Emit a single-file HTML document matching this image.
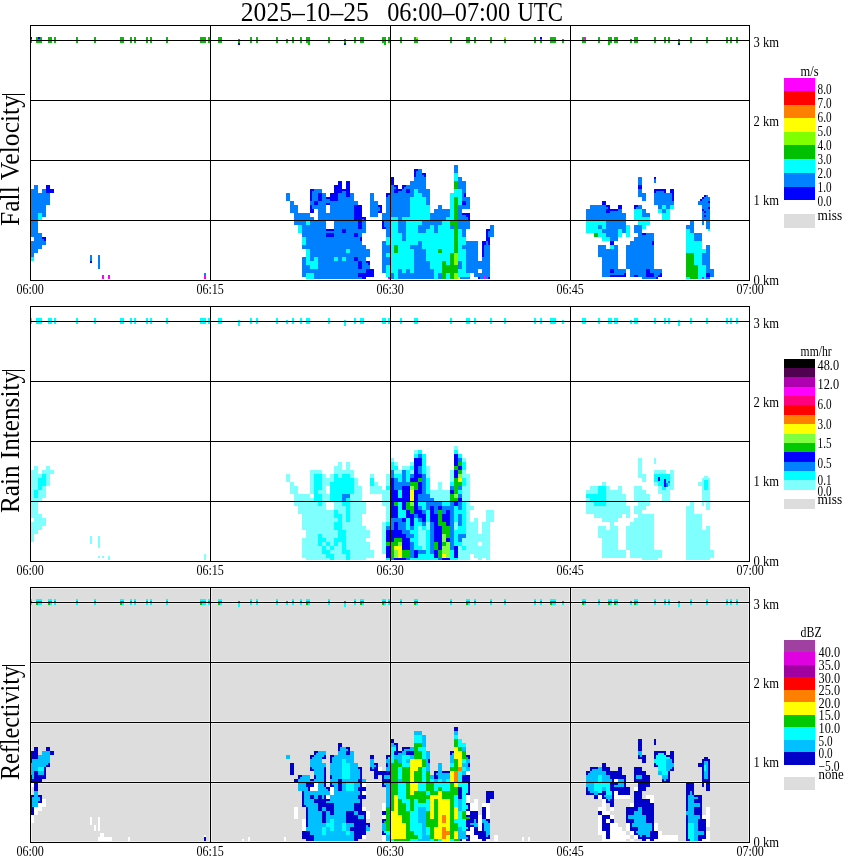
<!DOCTYPE html><html><head><meta charset="utf-8"><style>html,body{margin:0;padding:0;background:#fff;overflow:hidden}svg{display:block}text{font-family:"Liberation Serif",serif}.txt{opacity:0.999}</style></head><body>
<svg width="850" height="868" viewBox="0 0 850 868">
<rect x="31" y="588" width="718" height="254" fill="#dddddd"/>
<g shape-rendering="crispEdges" fill="#eeeeee">
<rect x="31" y="588" width="1" height="254"/>
<rect x="209" y="588" width="1" height="254"/>
<rect x="211" y="588" width="1" height="254"/>
<rect x="389" y="588" width="1" height="254"/>
<rect x="391" y="588" width="1" height="254"/>
<rect x="569" y="588" width="1" height="254"/>
<rect x="571" y="588" width="1" height="254"/>
<rect x="748" y="588" width="1" height="254"/>
<rect x="31" y="588" width="718" height="1"/>
<rect x="31" y="601" width="718" height="1"/>
<rect x="31" y="603" width="718" height="1"/>
<rect x="31" y="661" width="718" height="1"/>
<rect x="31" y="663" width="718" height="1"/>
<rect x="31" y="721" width="718" height="1"/>
<rect x="31" y="723" width="718" height="1"/>
<rect x="31" y="781" width="718" height="1"/>
<rect x="31" y="783" width="718" height="1"/>
<rect x="31" y="841" width="718" height="1"/>
</g>
<g shape-rendering="crispEdges">
<rect x="454" y="165" width="4" height="8" fill="#0080ff"/>
<rect x="414" y="169" width="4" height="2" fill="#0000ff"/>
<rect x="418" y="169" width="4" height="2" fill="#0080ff"/>
<rect x="414" y="171" width="2" height="6" fill="#0000ff"/>
<rect x="416" y="171" width="6" height="4" fill="#0080ff"/>
<rect x="422" y="173" width="4" height="2" fill="#0000ff"/>
<rect x="454" y="173" width="4" height="8" fill="#00ffff"/>
<rect x="416" y="175" width="8" height="2" fill="#0080ff"/>
<rect x="424" y="175" width="2" height="2" fill="#0000ff"/>
<rect x="390" y="177" width="4" height="8" fill="#0000ff"/>
<rect x="414" y="177" width="12" height="4" fill="#0080ff"/>
<rect x="458" y="177" width="4" height="4" fill="#0080ff"/>
<rect x="638" y="177" width="4" height="8" fill="#0080ff"/>
<rect x="338" y="181" width="4" height="4" fill="#0000ff"/>
<rect x="346" y="181" width="4" height="8" fill="#0000ff"/>
<rect x="410" y="181" width="16" height="4" fill="#0080ff"/>
<rect x="454" y="181" width="4" height="8" fill="#00c000"/>
<rect x="458" y="181" width="8" height="8" fill="#0080ff"/>
<rect x="34" y="185" width="4" height="4" fill="#0080ff"/>
<rect x="46" y="185" width="4" height="4" fill="#0000ff"/>
<rect x="334" y="185" width="8" height="4" fill="#0000ff"/>
<rect x="390" y="185" width="4" height="2" fill="#0080ff"/>
<rect x="394" y="185" width="4" height="2" fill="#0000ff"/>
<rect x="402" y="185" width="4" height="2" fill="#0000ff"/>
<rect x="406" y="185" width="20" height="2" fill="#0080ff"/>
<rect x="638" y="185" width="4" height="4" fill="#0000ff"/>
<rect x="390" y="187" width="6" height="2" fill="#0080ff"/>
<rect x="396" y="187" width="2" height="2" fill="#0000ff"/>
<rect x="402" y="187" width="2" height="2" fill="#0000ff"/>
<rect x="404" y="187" width="22" height="2" fill="#0080ff"/>
<rect x="30" y="189" width="8" height="4" fill="#0080ff"/>
<rect x="42" y="189" width="4" height="4" fill="#0080ff"/>
<rect x="46" y="189" width="8" height="4" fill="#0000ff"/>
<rect x="310" y="189" width="4" height="2" fill="#0000ff"/>
<rect x="314" y="189" width="8" height="2" fill="#0080ff"/>
<rect x="334" y="189" width="16" height="2" fill="#0000ff"/>
<rect x="390" y="189" width="4" height="4" fill="#0080ff"/>
<rect x="394" y="189" width="8" height="2" fill="#0000ff"/>
<rect x="402" y="189" width="4" height="2" fill="#0080ff"/>
<rect x="406" y="189" width="4" height="4" fill="#0000ff"/>
<rect x="410" y="189" width="4" height="4" fill="#0080ff"/>
<rect x="414" y="189" width="4" height="4" fill="#00ffff"/>
<rect x="418" y="189" width="12" height="4" fill="#0080ff"/>
<rect x="454" y="189" width="8" height="4" fill="#00ffff"/>
<rect x="462" y="189" width="4" height="4" fill="#0080ff"/>
<rect x="638" y="189" width="4" height="4" fill="#0080ff"/>
<rect x="654" y="189" width="12" height="2" fill="#0000ff"/>
<rect x="670" y="189" width="4" height="4" fill="#0000ff"/>
<rect x="310" y="191" width="2" height="10" fill="#0000ff"/>
<rect x="312" y="191" width="10" height="2" fill="#0080ff"/>
<rect x="334" y="191" width="8" height="2" fill="#0000ff"/>
<rect x="342" y="191" width="4" height="2" fill="#0080ff"/>
<rect x="346" y="191" width="4" height="6" fill="#0000ff"/>
<rect x="394" y="191" width="4" height="2" fill="#0000ff"/>
<rect x="398" y="191" width="8" height="2" fill="#0080ff"/>
<rect x="654" y="191" width="2" height="2" fill="#0000ff"/>
<rect x="656" y="191" width="8" height="2" fill="#0080ff"/>
<rect x="664" y="191" width="2" height="2" fill="#0000ff"/>
<rect x="30" y="193" width="20" height="12" fill="#0080ff"/>
<rect x="286" y="193" width="4" height="8" fill="#0080ff"/>
<rect x="312" y="193" width="6" height="8" fill="#0080ff"/>
<rect x="318" y="193" width="4" height="8" fill="#0000ff"/>
<rect x="322" y="193" width="4" height="6" fill="#0080ff"/>
<rect x="330" y="193" width="8" height="4" fill="#0000ff"/>
<rect x="338" y="193" width="8" height="4" fill="#0080ff"/>
<rect x="350" y="193" width="4" height="4" fill="#0080ff"/>
<rect x="370" y="193" width="4" height="8" fill="#0080ff"/>
<rect x="386" y="193" width="4" height="2" fill="#0000ff"/>
<rect x="390" y="193" width="24" height="2" fill="#0080ff"/>
<rect x="414" y="193" width="8" height="4" fill="#00ffff"/>
<rect x="422" y="193" width="8" height="4" fill="#0080ff"/>
<rect x="450" y="193" width="12" height="4" fill="#00ffff"/>
<rect x="462" y="193" width="2" height="4" fill="#0080ff"/>
<rect x="464" y="193" width="2" height="4" fill="#0000ff"/>
<rect x="638" y="193" width="8" height="4" fill="#0080ff"/>
<rect x="654" y="193" width="18" height="8" fill="#0080ff"/>
<rect x="672" y="193" width="2" height="8" fill="#0000ff"/>
<rect x="386" y="195" width="2" height="2" fill="#0000ff"/>
<rect x="388" y="195" width="26" height="2" fill="#0080ff"/>
<rect x="326" y="197" width="12" height="2" fill="#0000ff"/>
<rect x="338" y="197" width="16" height="4" fill="#0080ff"/>
<rect x="386" y="197" width="24" height="16" fill="#0080ff"/>
<rect x="410" y="197" width="16" height="8" fill="#00ffff"/>
<rect x="426" y="197" width="4" height="8" fill="#0080ff"/>
<rect x="450" y="197" width="4" height="20" fill="#00ffff"/>
<rect x="454" y="197" width="4" height="24" fill="#00c000"/>
<rect x="458" y="197" width="4" height="8" fill="#00ffff"/>
<rect x="462" y="197" width="8" height="4" fill="#0080ff"/>
<rect x="642" y="197" width="4" height="4" fill="#0080ff"/>
<rect x="322" y="199" width="8" height="2" fill="#0080ff"/>
<rect x="330" y="199" width="8" height="2" fill="#0000ff"/>
<rect x="290" y="201" width="4" height="4" fill="#0080ff"/>
<rect x="310" y="201" width="4" height="4" fill="#0080ff"/>
<rect x="314" y="201" width="4" height="4" fill="#0000ff"/>
<rect x="318" y="201" width="40" height="2" fill="#0080ff"/>
<rect x="370" y="201" width="8" height="6" fill="#0080ff"/>
<rect x="462" y="201" width="4" height="4" fill="#0000ff"/>
<rect x="466" y="201" width="4" height="4" fill="#0080ff"/>
<rect x="602" y="201" width="4" height="4" fill="#0000ff"/>
<rect x="654" y="201" width="20" height="4" fill="#0080ff"/>
<rect x="698" y="201" width="4" height="4" fill="#0080ff"/>
<rect x="318" y="203" width="8" height="2" fill="#0080ff"/>
<rect x="326" y="203" width="4" height="2" fill="#0000ff"/>
<rect x="330" y="203" width="28" height="2" fill="#0080ff"/>
<rect x="30" y="205" width="16" height="8" fill="#0080ff"/>
<rect x="290" y="205" width="8" height="8" fill="#0080ff"/>
<rect x="310" y="205" width="2" height="4" fill="#0000ff"/>
<rect x="312" y="205" width="14" height="4" fill="#0080ff"/>
<rect x="330" y="205" width="24" height="8" fill="#0080ff"/>
<rect x="354" y="205" width="8" height="12" fill="#0000ff"/>
<rect x="378" y="205" width="4" height="2" fill="#0000ff"/>
<rect x="410" y="205" width="20" height="12" fill="#00ffff"/>
<rect x="438" y="205" width="4" height="4" fill="#0080ff"/>
<rect x="458" y="205" width="12" height="4" fill="#0080ff"/>
<rect x="590" y="205" width="16" height="2" fill="#0080ff"/>
<rect x="606" y="205" width="4" height="2" fill="#0000ff"/>
<rect x="618" y="205" width="4" height="4" fill="#0000ff"/>
<rect x="634" y="205" width="4" height="2" fill="#0000ff"/>
<rect x="638" y="205" width="4" height="2" fill="#0080ff"/>
<rect x="658" y="205" width="4" height="4" fill="#0080ff"/>
<rect x="662" y="205" width="4" height="4" fill="#00ffff"/>
<rect x="666" y="205" width="4" height="4" fill="#0080ff"/>
<rect x="670" y="205" width="4" height="4" fill="#00ffff"/>
<rect x="370" y="207" width="10" height="4" fill="#0080ff"/>
<rect x="380" y="207" width="2" height="4" fill="#0000ff"/>
<rect x="590" y="207" width="18" height="2" fill="#0080ff"/>
<rect x="608" y="207" width="2" height="2" fill="#0000ff"/>
<rect x="634" y="207" width="2" height="2" fill="#0000ff"/>
<rect x="636" y="207" width="6" height="2" fill="#0080ff"/>
<rect x="310" y="209" width="4" height="4" fill="#0000ff"/>
<rect x="318" y="209" width="8" height="4" fill="#0080ff"/>
<rect x="434" y="209" width="16" height="4" fill="#0080ff"/>
<rect x="458" y="209" width="4" height="6" fill="#0080ff"/>
<rect x="586" y="209" width="20" height="4" fill="#0080ff"/>
<rect x="606" y="209" width="12" height="2" fill="#0000ff"/>
<rect x="618" y="209" width="4" height="2" fill="#0080ff"/>
<rect x="634" y="209" width="8" height="8" fill="#00ffff"/>
<rect x="642" y="209" width="4" height="4" fill="#0080ff"/>
<rect x="658" y="209" width="4" height="4" fill="#00ffff"/>
<rect x="662" y="209" width="4" height="4" fill="#0080ff"/>
<rect x="666" y="209" width="4" height="4" fill="#00ffff"/>
<rect x="370" y="211" width="8" height="6" fill="#0080ff"/>
<rect x="378" y="211" width="4" height="2" fill="#0000ff"/>
<rect x="606" y="211" width="4" height="2" fill="#0000ff"/>
<rect x="610" y="211" width="12" height="2" fill="#0080ff"/>
<rect x="30" y="213" width="8" height="20" fill="#0080ff"/>
<rect x="38" y="213" width="4" height="8" fill="#00ffff"/>
<rect x="42" y="213" width="4" height="4" fill="#0080ff"/>
<rect x="294" y="213" width="16" height="4" fill="#0080ff"/>
<rect x="318" y="213" width="36" height="8" fill="#0080ff"/>
<rect x="382" y="213" width="28" height="4" fill="#0080ff"/>
<rect x="430" y="213" width="20" height="4" fill="#0080ff"/>
<rect x="462" y="213" width="8" height="2" fill="#0000ff"/>
<rect x="586" y="213" width="40" height="8" fill="#0080ff"/>
<rect x="642" y="213" width="8" height="4" fill="#0080ff"/>
<rect x="662" y="213" width="8" height="8" fill="#00ffff"/>
<rect x="458" y="215" width="8" height="2" fill="#0080ff"/>
<rect x="466" y="215" width="4" height="2" fill="#0000ff"/>
<rect x="294" y="217" width="20" height="4" fill="#0080ff"/>
<rect x="354" y="217" width="12" height="2" fill="#0000ff"/>
<rect x="382" y="217" width="8" height="4" fill="#0080ff"/>
<rect x="390" y="217" width="8" height="16" fill="#00ffff"/>
<rect x="398" y="217" width="4" height="4" fill="#0080ff"/>
<rect x="402" y="217" width="28" height="4" fill="#00ffff"/>
<rect x="430" y="217" width="16" height="4" fill="#0080ff"/>
<rect x="446" y="217" width="8" height="4" fill="#00ffff"/>
<rect x="458" y="217" width="10" height="4" fill="#0080ff"/>
<rect x="468" y="217" width="2" height="4" fill="#0000ff"/>
<rect x="634" y="217" width="16" height="4" fill="#00ffff"/>
<rect x="354" y="219" width="8" height="2" fill="#0000ff"/>
<rect x="362" y="219" width="2" height="2" fill="#0080ff"/>
<rect x="364" y="219" width="2" height="2" fill="#0000ff"/>
<rect x="294" y="221" width="12" height="4" fill="#0080ff"/>
<rect x="306" y="221" width="4" height="4" fill="#00ffff"/>
<rect x="310" y="221" width="16" height="4" fill="#0080ff"/>
<rect x="334" y="221" width="24" height="8" fill="#0080ff"/>
<rect x="358" y="221" width="4" height="8" fill="#0000ff"/>
<rect x="362" y="221" width="4" height="8" fill="#0080ff"/>
<rect x="382" y="221" width="2" height="6" fill="#0000ff"/>
<rect x="384" y="221" width="6" height="6" fill="#0080ff"/>
<rect x="398" y="221" width="8" height="12" fill="#0080ff"/>
<rect x="406" y="221" width="16" height="4" fill="#00ffff"/>
<rect x="422" y="221" width="20" height="4" fill="#0080ff"/>
<rect x="442" y="221" width="8" height="4" fill="#00ffff"/>
<rect x="450" y="221" width="8" height="4" fill="#00c000"/>
<rect x="458" y="221" width="12" height="8" fill="#0080ff"/>
<rect x="586" y="221" width="20" height="4" fill="#00ffff"/>
<rect x="606" y="221" width="20" height="8" fill="#0080ff"/>
<rect x="638" y="221" width="12" height="4" fill="#00ffff"/>
<rect x="690" y="221" width="4" height="4" fill="#0080ff"/>
<rect x="298" y="225" width="4" height="8" fill="#00ffff"/>
<rect x="302" y="225" width="24" height="6" fill="#0080ff"/>
<rect x="406" y="225" width="12" height="8" fill="#00ffff"/>
<rect x="418" y="225" width="12" height="4" fill="#0080ff"/>
<rect x="430" y="225" width="4" height="4" fill="#00ffff"/>
<rect x="434" y="225" width="4" height="8" fill="#0080ff"/>
<rect x="438" y="225" width="12" height="4" fill="#00ffff"/>
<rect x="450" y="225" width="4" height="4" fill="#0080ff"/>
<rect x="454" y="225" width="4" height="28" fill="#00c000"/>
<rect x="490" y="225" width="4" height="6" fill="#0080ff"/>
<rect x="586" y="225" width="12" height="4" fill="#00ffff"/>
<rect x="598" y="225" width="4" height="4" fill="#0080ff"/>
<rect x="602" y="225" width="4" height="4" fill="#00ffff"/>
<rect x="626" y="225" width="4" height="12" fill="#00ffff"/>
<rect x="634" y="225" width="8" height="8" fill="#0080ff"/>
<rect x="642" y="225" width="4" height="4" fill="#00ffff"/>
<rect x="686" y="225" width="8" height="4" fill="#0080ff"/>
<rect x="382" y="227" width="4" height="2" fill="#0000ff"/>
<rect x="386" y="227" width="4" height="10" fill="#0080ff"/>
<rect x="326" y="229" width="8" height="2" fill="#0000ff"/>
<rect x="334" y="229" width="8" height="2" fill="#0080ff"/>
<rect x="342" y="229" width="4" height="4" fill="#0000ff"/>
<rect x="346" y="229" width="20" height="4" fill="#0080ff"/>
<rect x="418" y="229" width="8" height="4" fill="#0080ff"/>
<rect x="426" y="229" width="8" height="4" fill="#00ffff"/>
<rect x="438" y="229" width="16" height="4" fill="#00ffff"/>
<rect x="458" y="229" width="4" height="8" fill="#00ffff"/>
<rect x="462" y="229" width="4" height="8" fill="#0080ff"/>
<rect x="486" y="229" width="4" height="2" fill="#0000ff"/>
<rect x="586" y="229" width="16" height="4" fill="#00ffff"/>
<rect x="602" y="229" width="16" height="4" fill="#0080ff"/>
<rect x="618" y="229" width="4" height="8" fill="#00ffff"/>
<rect x="622" y="229" width="4" height="4" fill="#0080ff"/>
<rect x="686" y="229" width="4" height="4" fill="#00ffff"/>
<rect x="690" y="229" width="4" height="4" fill="#0080ff"/>
<rect x="302" y="231" width="40" height="2" fill="#0080ff"/>
<rect x="486" y="231" width="2" height="6" fill="#0000ff"/>
<rect x="488" y="231" width="6" height="6" fill="#0080ff"/>
<rect x="30" y="233" width="12" height="4" fill="#0080ff"/>
<rect x="302" y="233" width="24" height="4" fill="#0080ff"/>
<rect x="326" y="233" width="8" height="4" fill="#0000ff"/>
<rect x="334" y="233" width="20" height="4" fill="#0080ff"/>
<rect x="354" y="233" width="4" height="4" fill="#0000ff"/>
<rect x="358" y="233" width="4" height="4" fill="#0080ff"/>
<rect x="390" y="233" width="12" height="4" fill="#00ffff"/>
<rect x="402" y="233" width="4" height="8" fill="#0080ff"/>
<rect x="406" y="233" width="48" height="8" fill="#00ffff"/>
<rect x="594" y="233" width="4" height="4" fill="#00c000"/>
<rect x="598" y="233" width="8" height="4" fill="#00ffff"/>
<rect x="606" y="233" width="12" height="4" fill="#0080ff"/>
<rect x="638" y="233" width="4" height="2" fill="#0080ff"/>
<rect x="642" y="233" width="4" height="2" fill="#0000ff"/>
<rect x="646" y="233" width="8" height="2" fill="#0080ff"/>
<rect x="686" y="233" width="8" height="8" fill="#00ffff"/>
<rect x="694" y="233" width="8" height="8" fill="#0080ff"/>
<rect x="638" y="235" width="16" height="2" fill="#0080ff"/>
<rect x="34" y="237" width="8" height="2" fill="#0080ff"/>
<rect x="42" y="237" width="4" height="2" fill="#0000ff"/>
<rect x="302" y="237" width="4" height="8" fill="#00ffff"/>
<rect x="306" y="237" width="54" height="4" fill="#0080ff"/>
<rect x="360" y="237" width="2" height="4" fill="#0000ff"/>
<rect x="386" y="237" width="16" height="4" fill="#00ffff"/>
<rect x="458" y="237" width="8" height="8" fill="#00ffff"/>
<rect x="486" y="237" width="4" height="4" fill="#0000ff"/>
<rect x="602" y="237" width="8" height="4" fill="#00ffff"/>
<rect x="610" y="237" width="8" height="4" fill="#0080ff"/>
<rect x="634" y="237" width="20" height="4" fill="#0080ff"/>
<rect x="34" y="239" width="10" height="2" fill="#0080ff"/>
<rect x="44" y="239" width="2" height="2" fill="#0000ff"/>
<rect x="30" y="241" width="16" height="4" fill="#0080ff"/>
<rect x="306" y="241" width="56" height="4" fill="#0080ff"/>
<rect x="382" y="241" width="4" height="4" fill="#0080ff"/>
<rect x="386" y="241" width="32" height="4" fill="#00ffff"/>
<rect x="418" y="241" width="4" height="4" fill="#0080ff"/>
<rect x="422" y="241" width="32" height="8" fill="#00ffff"/>
<rect x="466" y="241" width="12" height="4" fill="#0080ff"/>
<rect x="482" y="241" width="4" height="4" fill="#0000ff"/>
<rect x="486" y="241" width="2" height="4" fill="#0080ff"/>
<rect x="488" y="241" width="2" height="4" fill="#0000ff"/>
<rect x="610" y="241" width="4" height="4" fill="#0000ff"/>
<rect x="630" y="241" width="22" height="4" fill="#0080ff"/>
<rect x="652" y="241" width="2" height="4" fill="#0000ff"/>
<rect x="686" y="241" width="16" height="8" fill="#00ffff"/>
<rect x="30" y="245" width="12" height="4" fill="#0080ff"/>
<rect x="302" y="245" width="64" height="4" fill="#0080ff"/>
<rect x="382" y="245" width="8" height="8" fill="#0080ff"/>
<rect x="390" y="245" width="4" height="8" fill="#00ffff"/>
<rect x="394" y="245" width="4" height="8" fill="#00c000"/>
<rect x="398" y="245" width="12" height="4" fill="#00ffff"/>
<rect x="410" y="245" width="12" height="4" fill="#0080ff"/>
<rect x="458" y="245" width="4" height="4" fill="#00ffff"/>
<rect x="462" y="245" width="16" height="4" fill="#0080ff"/>
<rect x="482" y="245" width="2" height="12" fill="#0000ff"/>
<rect x="484" y="245" width="6" height="12" fill="#0080ff"/>
<rect x="598" y="245" width="8" height="4" fill="#0080ff"/>
<rect x="610" y="245" width="4" height="4" fill="#00ffff"/>
<rect x="614" y="245" width="4" height="4" fill="#0080ff"/>
<rect x="626" y="245" width="28" height="24" fill="#0080ff"/>
<rect x="706" y="245" width="4" height="8" fill="#0080ff"/>
<rect x="30" y="249" width="8" height="4" fill="#0080ff"/>
<rect x="306" y="249" width="4" height="12" fill="#00ffff"/>
<rect x="310" y="249" width="36" height="4" fill="#0080ff"/>
<rect x="346" y="249" width="4" height="4" fill="#00ffff"/>
<rect x="350" y="249" width="20" height="4" fill="#0080ff"/>
<rect x="398" y="249" width="16" height="4" fill="#00ffff"/>
<rect x="414" y="249" width="12" height="12" fill="#0080ff"/>
<rect x="426" y="249" width="12" height="4" fill="#00ffff"/>
<rect x="438" y="249" width="4" height="4" fill="#00c000"/>
<rect x="442" y="249" width="12" height="4" fill="#00ffff"/>
<rect x="458" y="249" width="8" height="12" fill="#00ffff"/>
<rect x="466" y="249" width="12" height="12" fill="#0080ff"/>
<rect x="598" y="249" width="20" height="8" fill="#0080ff"/>
<rect x="686" y="249" width="20" height="4" fill="#00ffff"/>
<rect x="30" y="253" width="4" height="4" fill="#0080ff"/>
<rect x="310" y="253" width="60" height="4" fill="#0080ff"/>
<rect x="382" y="253" width="4" height="4" fill="#0080ff"/>
<rect x="386" y="253" width="28" height="4" fill="#00ffff"/>
<rect x="426" y="253" width="24" height="8" fill="#00ffff"/>
<rect x="450" y="253" width="4" height="12" fill="#00c000"/>
<rect x="454" y="253" width="4" height="12" fill="#80ff00"/>
<rect x="686" y="253" width="8" height="12" fill="#00c000"/>
<rect x="694" y="253" width="8" height="12" fill="#00ffff"/>
<rect x="702" y="253" width="8" height="12" fill="#0080ff"/>
<rect x="30" y="257" width="4" height="4" fill="#00ffff"/>
<rect x="302" y="257" width="4" height="8" fill="#0080ff"/>
<rect x="310" y="257" width="4" height="4" fill="#0080ff"/>
<rect x="314" y="257" width="4" height="4" fill="#00ffff"/>
<rect x="318" y="257" width="16" height="4" fill="#0080ff"/>
<rect x="334" y="257" width="4" height="4" fill="#00ffff"/>
<rect x="338" y="257" width="4" height="4" fill="#0080ff"/>
<rect x="342" y="257" width="4" height="4" fill="#00ffff"/>
<rect x="346" y="257" width="8" height="4" fill="#0080ff"/>
<rect x="354" y="257" width="4" height="4" fill="#0000ff"/>
<rect x="358" y="257" width="8" height="4" fill="#0080ff"/>
<rect x="382" y="257" width="8" height="8" fill="#0080ff"/>
<rect x="390" y="257" width="24" height="8" fill="#00ffff"/>
<rect x="482" y="257" width="8" height="4" fill="#0080ff"/>
<rect x="602" y="257" width="16" height="12" fill="#0080ff"/>
<rect x="306" y="261" width="12" height="4" fill="#00ffff"/>
<rect x="318" y="261" width="40" height="8" fill="#0080ff"/>
<rect x="358" y="261" width="4" height="8" fill="#0000ff"/>
<rect x="362" y="261" width="4" height="2" fill="#0080ff"/>
<rect x="366" y="261" width="4" height="2" fill="#0000ff"/>
<rect x="414" y="261" width="16" height="8" fill="#0080ff"/>
<rect x="430" y="261" width="12" height="8" fill="#00ffff"/>
<rect x="442" y="261" width="4" height="4" fill="#00c000"/>
<rect x="446" y="261" width="4" height="4" fill="#00ffff"/>
<rect x="458" y="261" width="4" height="8" fill="#0080ff"/>
<rect x="462" y="261" width="4" height="8" fill="#00ffff"/>
<rect x="466" y="261" width="24" height="8" fill="#0080ff"/>
<rect x="362" y="263" width="6" height="2" fill="#0080ff"/>
<rect x="368" y="263" width="2" height="2" fill="#0000ff"/>
<rect x="302" y="265" width="8" height="4" fill="#0080ff"/>
<rect x="310" y="265" width="8" height="4" fill="#00ffff"/>
<rect x="362" y="265" width="8" height="4" fill="#0080ff"/>
<rect x="382" y="265" width="4" height="8" fill="#0080ff"/>
<rect x="386" y="265" width="28" height="4" fill="#00ffff"/>
<rect x="442" y="265" width="16" height="8" fill="#00c000"/>
<rect x="686" y="265" width="12" height="12" fill="#00c000"/>
<rect x="698" y="265" width="8" height="16" fill="#00ffff"/>
<rect x="706" y="265" width="4" height="4" fill="#0080ff"/>
<rect x="302" y="269" width="64" height="4" fill="#0080ff"/>
<rect x="366" y="269" width="8" height="4" fill="#0000ff"/>
<rect x="386" y="269" width="12" height="4" fill="#00ffff"/>
<rect x="398" y="269" width="4" height="4" fill="#0080ff"/>
<rect x="402" y="269" width="4" height="4" fill="#00ffff"/>
<rect x="406" y="269" width="4" height="4" fill="#0080ff"/>
<rect x="410" y="269" width="4" height="4" fill="#00ffff"/>
<rect x="414" y="269" width="20" height="4" fill="#0080ff"/>
<rect x="434" y="269" width="8" height="4" fill="#00ffff"/>
<rect x="458" y="269" width="8" height="4" fill="#00ffff"/>
<rect x="466" y="269" width="12" height="4" fill="#0080ff"/>
<rect x="482" y="269" width="8" height="4" fill="#0080ff"/>
<rect x="602" y="269" width="8" height="4" fill="#0080ff"/>
<rect x="610" y="269" width="4" height="4" fill="#0000ff"/>
<rect x="614" y="269" width="12" height="4" fill="#0080ff"/>
<rect x="630" y="269" width="16" height="6" fill="#0080ff"/>
<rect x="646" y="269" width="4" height="4" fill="#0000ff"/>
<rect x="650" y="269" width="12" height="4" fill="#0080ff"/>
<rect x="706" y="269" width="8" height="4" fill="#0080ff"/>
<rect x="302" y="273" width="4" height="4" fill="#0080ff"/>
<rect x="306" y="273" width="8" height="8" fill="#00ffff"/>
<rect x="314" y="273" width="44" height="4" fill="#0080ff"/>
<rect x="358" y="273" width="16" height="4" fill="#0000ff"/>
<rect x="386" y="273" width="4" height="4" fill="#00ffff"/>
<rect x="390" y="273" width="4" height="8" fill="#0080ff"/>
<rect x="394" y="273" width="4" height="8" fill="#00ffff"/>
<rect x="398" y="273" width="36" height="8" fill="#0080ff"/>
<rect x="434" y="273" width="4" height="8" fill="#00ffff"/>
<rect x="438" y="273" width="4" height="8" fill="#0080ff"/>
<rect x="442" y="273" width="4" height="8" fill="#00c000"/>
<rect x="446" y="273" width="4" height="8" fill="#00ffff"/>
<rect x="450" y="273" width="4" height="8" fill="#00c000"/>
<rect x="454" y="273" width="4" height="8" fill="#80ff00"/>
<rect x="458" y="273" width="12" height="4" fill="#00ffff"/>
<rect x="474" y="273" width="16" height="4" fill="#0080ff"/>
<rect x="602" y="273" width="22" height="2" fill="#0080ff"/>
<rect x="624" y="273" width="2" height="2" fill="#0000ff"/>
<rect x="646" y="273" width="8" height="4" fill="#0000ff"/>
<rect x="654" y="273" width="6" height="2" fill="#0080ff"/>
<rect x="660" y="273" width="2" height="2" fill="#0000ff"/>
<rect x="706" y="273" width="4" height="4" fill="#0000ff"/>
<rect x="710" y="273" width="4" height="4" fill="#0080ff"/>
<rect x="602" y="275" width="8" height="2" fill="#0080ff"/>
<rect x="610" y="275" width="16" height="2" fill="#0000ff"/>
<rect x="630" y="275" width="4" height="2" fill="#0080ff"/>
<rect x="634" y="275" width="4" height="2" fill="#0000ff"/>
<rect x="638" y="275" width="8" height="2" fill="#0080ff"/>
<rect x="654" y="275" width="4" height="2" fill="#0080ff"/>
<rect x="658" y="275" width="4" height="2" fill="#0000ff"/>
<rect x="314" y="277" width="48" height="2" fill="#0080ff"/>
<rect x="362" y="277" width="4" height="2" fill="#0000ff"/>
<rect x="458" y="277" width="12" height="4" fill="#0080ff"/>
<rect x="478" y="277" width="2" height="2" fill="#0000ff"/>
<rect x="480" y="277" width="8" height="2" fill="#0080ff"/>
<rect x="488" y="277" width="2" height="2" fill="#0000ff"/>
<rect x="642" y="277" width="14" height="2" fill="#0080ff"/>
<rect x="656" y="277" width="2" height="2" fill="#0000ff"/>
<rect x="686" y="277" width="4" height="4" fill="#00ffff"/>
<rect x="690" y="277" width="8" height="4" fill="#00c000"/>
<rect x="706" y="277" width="4" height="4" fill="#0080ff"/>
<rect x="314" y="279" width="44" height="2" fill="#0080ff"/>
<rect x="358" y="279" width="8" height="2" fill="#0000ff"/>
<rect x="478" y="279" width="4" height="2" fill="#0000ff"/>
<rect x="482" y="279" width="4" height="2" fill="#0080ff"/>
<rect x="486" y="279" width="4" height="2" fill="#0000ff"/>
<rect x="642" y="279" width="4" height="2" fill="#0080ff"/>
<rect x="646" y="279" width="4" height="2" fill="#0000ff"/>
<rect x="650" y="279" width="4" height="2" fill="#0080ff"/>
<rect x="654" y="279" width="4" height="2" fill="#0000ff"/>
<rect x="454" y="446" width="4" height="4" fill="#80ffff"/>
<rect x="414" y="450" width="4" height="4" fill="#80ffff"/>
<rect x="418" y="450" width="4" height="4" fill="#00ffff"/>
<rect x="454" y="450" width="4" height="4" fill="#00ffff"/>
<rect x="414" y="454" width="4" height="4" fill="#00ffff"/>
<rect x="418" y="454" width="4" height="4" fill="#0080ff"/>
<rect x="422" y="454" width="4" height="20" fill="#00ffff"/>
<rect x="454" y="454" width="4" height="12" fill="#0000ff"/>
<rect x="458" y="454" width="4" height="4" fill="#00ffff"/>
<rect x="390" y="458" width="4" height="4" fill="#80ffff"/>
<rect x="414" y="458" width="8" height="8" fill="#0000ff"/>
<rect x="458" y="458" width="4" height="4" fill="#0080ff"/>
<rect x="462" y="458" width="4" height="4" fill="#80ffff"/>
<rect x="638" y="458" width="4" height="16" fill="#80ffff"/>
<rect x="338" y="462" width="4" height="4" fill="#80ffff"/>
<rect x="346" y="462" width="4" height="8" fill="#80ffff"/>
<rect x="390" y="462" width="4" height="4" fill="#00ffff"/>
<rect x="394" y="462" width="4" height="4" fill="#80ffff"/>
<rect x="410" y="462" width="4" height="4" fill="#80ffff"/>
<rect x="458" y="462" width="4" height="4" fill="#00c800"/>
<rect x="462" y="462" width="4" height="8" fill="#00ffff"/>
<rect x="34" y="466" width="4" height="4" fill="#80ffff"/>
<rect x="46" y="466" width="4" height="4" fill="#80ffff"/>
<rect x="334" y="466" width="8" height="4" fill="#80ffff"/>
<rect x="390" y="466" width="8" height="4" fill="#00ffff"/>
<rect x="402" y="466" width="8" height="4" fill="#80ffff"/>
<rect x="410" y="466" width="4" height="4" fill="#00ffff"/>
<rect x="414" y="466" width="4" height="8" fill="#0000ff"/>
<rect x="418" y="466" width="4" height="8" fill="#0080ff"/>
<rect x="426" y="466" width="4" height="12" fill="#80ffff"/>
<rect x="454" y="466" width="4" height="4" fill="#00c800"/>
<rect x="458" y="466" width="4" height="4" fill="#0000ff"/>
<rect x="30" y="470" width="8" height="4" fill="#80ffff"/>
<rect x="42" y="470" width="12" height="4" fill="#80ffff"/>
<rect x="310" y="470" width="12" height="4" fill="#80ffff"/>
<rect x="334" y="470" width="20" height="4" fill="#80ffff"/>
<rect x="390" y="470" width="4" height="8" fill="#0080ff"/>
<rect x="394" y="470" width="8" height="4" fill="#80ffff"/>
<rect x="402" y="470" width="4" height="12" fill="#0080ff"/>
<rect x="406" y="470" width="4" height="12" fill="#00ffff"/>
<rect x="410" y="470" width="4" height="4" fill="#80ffff"/>
<rect x="450" y="470" width="4" height="12" fill="#80ffff"/>
<rect x="454" y="470" width="4" height="8" fill="#0000ff"/>
<rect x="458" y="470" width="4" height="4" fill="#00c800"/>
<rect x="462" y="470" width="4" height="4" fill="#80ffff"/>
<rect x="654" y="470" width="12" height="4" fill="#80ffff"/>
<rect x="670" y="470" width="4" height="16" fill="#80ffff"/>
<rect x="30" y="474" width="12" height="4" fill="#80ffff"/>
<rect x="42" y="474" width="4" height="4" fill="#00ffff"/>
<rect x="46" y="474" width="4" height="12" fill="#80ffff"/>
<rect x="286" y="474" width="4" height="8" fill="#80ffff"/>
<rect x="310" y="474" width="4" height="20" fill="#80ffff"/>
<rect x="314" y="474" width="8" height="16" fill="#00ffff"/>
<rect x="322" y="474" width="4" height="4" fill="#80ffff"/>
<rect x="330" y="474" width="4" height="4" fill="#80ffff"/>
<rect x="334" y="474" width="4" height="4" fill="#00ffff"/>
<rect x="338" y="474" width="4" height="4" fill="#80ffff"/>
<rect x="342" y="474" width="8" height="4" fill="#00ffff"/>
<rect x="350" y="474" width="4" height="4" fill="#80ffff"/>
<rect x="370" y="474" width="4" height="4" fill="#80ffff"/>
<rect x="386" y="474" width="4" height="12" fill="#80ffff"/>
<rect x="394" y="474" width="8" height="4" fill="#00ffff"/>
<rect x="410" y="474" width="4" height="4" fill="#0080ff"/>
<rect x="414" y="474" width="8" height="4" fill="#0000ff"/>
<rect x="422" y="474" width="4" height="20" fill="#0080ff"/>
<rect x="458" y="474" width="4" height="4" fill="#80ff40"/>
<rect x="462" y="474" width="8" height="4" fill="#80ffff"/>
<rect x="638" y="474" width="8" height="4" fill="#80ffff"/>
<rect x="654" y="474" width="16" height="8" fill="#00ffff"/>
<rect x="30" y="478" width="8" height="12" fill="#80ffff"/>
<rect x="38" y="478" width="8" height="8" fill="#00ffff"/>
<rect x="322" y="478" width="12" height="4" fill="#80ffff"/>
<rect x="334" y="478" width="20" height="4" fill="#00ffff"/>
<rect x="354" y="478" width="4" height="8" fill="#80ffff"/>
<rect x="370" y="478" width="4" height="8" fill="#00ffff"/>
<rect x="390" y="478" width="4" height="12" fill="#0000ff"/>
<rect x="394" y="478" width="4" height="4" fill="#0080ff"/>
<rect x="398" y="478" width="4" height="4" fill="#00ffff"/>
<rect x="410" y="478" width="8" height="4" fill="#0000ff"/>
<rect x="418" y="478" width="4" height="4" fill="#00c800"/>
<rect x="426" y="478" width="4" height="16" fill="#00ffff"/>
<rect x="454" y="478" width="4" height="4" fill="#00c800"/>
<rect x="458" y="478" width="4" height="4" fill="#ffff00"/>
<rect x="462" y="478" width="4" height="8" fill="#00ffff"/>
<rect x="466" y="478" width="4" height="8" fill="#80ffff"/>
<rect x="642" y="478" width="4" height="4" fill="#80ffff"/>
<rect x="290" y="482" width="4" height="4" fill="#80ffff"/>
<rect x="322" y="482" width="8" height="4" fill="#80ffff"/>
<rect x="330" y="482" width="24" height="12" fill="#00ffff"/>
<rect x="374" y="482" width="4" height="4" fill="#80ffff"/>
<rect x="394" y="482" width="16" height="4" fill="#0080ff"/>
<rect x="410" y="482" width="8" height="4" fill="#00c800"/>
<rect x="418" y="482" width="4" height="8" fill="#0000ff"/>
<rect x="438" y="482" width="4" height="8" fill="#80ffff"/>
<rect x="450" y="482" width="4" height="4" fill="#00ffff"/>
<rect x="454" y="482" width="8" height="4" fill="#00c800"/>
<rect x="602" y="482" width="4" height="4" fill="#80ffff"/>
<rect x="654" y="482" width="4" height="4" fill="#80ffff"/>
<rect x="658" y="482" width="12" height="4" fill="#00ffff"/>
<rect x="698" y="482" width="4" height="4" fill="#80ffff"/>
<rect x="38" y="486" width="4" height="4" fill="#00ffff"/>
<rect x="42" y="486" width="4" height="4" fill="#80ffff"/>
<rect x="290" y="486" width="8" height="8" fill="#80ffff"/>
<rect x="322" y="486" width="4" height="4" fill="#80ffff"/>
<rect x="354" y="486" width="8" height="8" fill="#80ffff"/>
<rect x="370" y="486" width="12" height="4" fill="#80ffff"/>
<rect x="386" y="486" width="4" height="4" fill="#00ffff"/>
<rect x="394" y="486" width="8" height="4" fill="#0080ff"/>
<rect x="402" y="486" width="8" height="12" fill="#0000ff"/>
<rect x="410" y="486" width="4" height="4" fill="#80ff40"/>
<rect x="414" y="486" width="4" height="4" fill="#00c800"/>
<rect x="450" y="486" width="4" height="4" fill="#0080ff"/>
<rect x="454" y="486" width="4" height="8" fill="#00c800"/>
<rect x="458" y="486" width="4" height="4" fill="#0080ff"/>
<rect x="462" y="486" width="8" height="16" fill="#80ffff"/>
<rect x="590" y="486" width="8" height="4" fill="#80ffff"/>
<rect x="598" y="486" width="8" height="8" fill="#00ffff"/>
<rect x="606" y="486" width="4" height="4" fill="#80ffff"/>
<rect x="618" y="486" width="4" height="4" fill="#80ffff"/>
<rect x="634" y="486" width="8" height="4" fill="#80ffff"/>
<rect x="658" y="486" width="4" height="4" fill="#80ffff"/>
<rect x="662" y="486" width="4" height="4" fill="#00ffff"/>
<rect x="666" y="486" width="8" height="4" fill="#80ffff"/>
<rect x="30" y="490" width="4" height="8" fill="#80ffff"/>
<rect x="34" y="490" width="4" height="8" fill="#00ffff"/>
<rect x="38" y="490" width="8" height="8" fill="#80ffff"/>
<rect x="314" y="490" width="4" height="4" fill="#00ffff"/>
<rect x="318" y="490" width="8" height="4" fill="#80ffff"/>
<rect x="370" y="490" width="20" height="4" fill="#80ffff"/>
<rect x="390" y="490" width="8" height="8" fill="#0000ff"/>
<rect x="398" y="490" width="4" height="8" fill="#00ffff"/>
<rect x="410" y="490" width="4" height="12" fill="#ffff00"/>
<rect x="414" y="490" width="8" height="4" fill="#0000ff"/>
<rect x="430" y="490" width="20" height="8" fill="#80ffff"/>
<rect x="450" y="490" width="4" height="4" fill="#0000ff"/>
<rect x="458" y="490" width="4" height="4" fill="#00ffff"/>
<rect x="586" y="490" width="12" height="4" fill="#80ffff"/>
<rect x="606" y="490" width="16" height="4" fill="#80ffff"/>
<rect x="634" y="490" width="12" height="4" fill="#80ffff"/>
<rect x="658" y="490" width="12" height="4" fill="#80ffff"/>
<rect x="294" y="494" width="16" height="4" fill="#80ffff"/>
<rect x="314" y="494" width="8" height="8" fill="#00ffff"/>
<rect x="322" y="494" width="8" height="8" fill="#80ffff"/>
<rect x="330" y="494" width="12" height="8" fill="#00ffff"/>
<rect x="342" y="494" width="8" height="4" fill="#0080ff"/>
<rect x="350" y="494" width="12" height="8" fill="#80ffff"/>
<rect x="382" y="494" width="8" height="12" fill="#80ffff"/>
<rect x="414" y="494" width="4" height="16" fill="#0000ff"/>
<rect x="418" y="494" width="12" height="4" fill="#0080ff"/>
<rect x="450" y="494" width="4" height="4" fill="#00c800"/>
<rect x="454" y="494" width="4" height="4" fill="#80ff40"/>
<rect x="458" y="494" width="4" height="4" fill="#0080ff"/>
<rect x="586" y="494" width="20" height="4" fill="#00ffff"/>
<rect x="606" y="494" width="20" height="12" fill="#80ffff"/>
<rect x="634" y="494" width="16" height="8" fill="#80ffff"/>
<rect x="662" y="494" width="8" height="8" fill="#80ffff"/>
<rect x="30" y="498" width="12" height="4" fill="#80ffff"/>
<rect x="294" y="498" width="20" height="4" fill="#80ffff"/>
<rect x="342" y="498" width="4" height="4" fill="#0080ff"/>
<rect x="346" y="498" width="4" height="4" fill="#00ffff"/>
<rect x="390" y="498" width="20" height="4" fill="#0000ff"/>
<rect x="418" y="498" width="16" height="4" fill="#0080ff"/>
<rect x="434" y="498" width="16" height="4" fill="#80ffff"/>
<rect x="450" y="498" width="8" height="4" fill="#00c800"/>
<rect x="458" y="498" width="4" height="4" fill="#0000ff"/>
<rect x="586" y="498" width="4" height="4" fill="#80ffff"/>
<rect x="590" y="498" width="16" height="4" fill="#00ffff"/>
<rect x="30" y="502" width="8" height="12" fill="#80ffff"/>
<rect x="294" y="502" width="24" height="4" fill="#80ffff"/>
<rect x="318" y="502" width="4" height="4" fill="#00ffff"/>
<rect x="322" y="502" width="4" height="4" fill="#80ffff"/>
<rect x="334" y="502" width="8" height="4" fill="#80ffff"/>
<rect x="342" y="502" width="8" height="4" fill="#00ffff"/>
<rect x="350" y="502" width="16" height="12" fill="#80ffff"/>
<rect x="390" y="502" width="4" height="4" fill="#0000ff"/>
<rect x="394" y="502" width="4" height="4" fill="#00c800"/>
<rect x="398" y="502" width="4" height="8" fill="#00ffff"/>
<rect x="402" y="502" width="4" height="8" fill="#0000ff"/>
<rect x="406" y="502" width="4" height="4" fill="#00c800"/>
<rect x="410" y="502" width="4" height="4" fill="#80ff40"/>
<rect x="418" y="502" width="8" height="4" fill="#00ffff"/>
<rect x="426" y="502" width="16" height="4" fill="#0080ff"/>
<rect x="442" y="502" width="8" height="4" fill="#00ffff"/>
<rect x="450" y="502" width="4" height="4" fill="#0080ff"/>
<rect x="454" y="502" width="4" height="4" fill="#0000ff"/>
<rect x="458" y="502" width="4" height="8" fill="#0080ff"/>
<rect x="462" y="502" width="4" height="8" fill="#00ffff"/>
<rect x="466" y="502" width="4" height="4" fill="#80ffff"/>
<rect x="586" y="502" width="8" height="4" fill="#80ffff"/>
<rect x="594" y="502" width="12" height="4" fill="#00ffff"/>
<rect x="638" y="502" width="12" height="4" fill="#80ffff"/>
<rect x="690" y="502" width="4" height="4" fill="#80ffff"/>
<rect x="298" y="506" width="28" height="4" fill="#80ffff"/>
<rect x="334" y="506" width="12" height="4" fill="#80ffff"/>
<rect x="346" y="506" width="4" height="16" fill="#00ffff"/>
<rect x="386" y="506" width="4" height="16" fill="#80ffff"/>
<rect x="390" y="506" width="8" height="12" fill="#0000ff"/>
<rect x="406" y="506" width="8" height="4" fill="#00c800"/>
<rect x="418" y="506" width="4" height="4" fill="#0080ff"/>
<rect x="422" y="506" width="4" height="4" fill="#00ffff"/>
<rect x="426" y="506" width="4" height="4" fill="#0080ff"/>
<rect x="430" y="506" width="4" height="8" fill="#0000ff"/>
<rect x="434" y="506" width="4" height="8" fill="#0080ff"/>
<rect x="438" y="506" width="4" height="4" fill="#0000ff"/>
<rect x="442" y="506" width="12" height="4" fill="#0080ff"/>
<rect x="454" y="506" width="4" height="4" fill="#00ffff"/>
<rect x="466" y="506" width="8" height="4" fill="#80ffff"/>
<rect x="586" y="506" width="44" height="8" fill="#80ffff"/>
<rect x="634" y="506" width="12" height="4" fill="#80ffff"/>
<rect x="686" y="506" width="8" height="8" fill="#80ffff"/>
<rect x="298" y="510" width="36" height="4" fill="#80ffff"/>
<rect x="334" y="510" width="4" height="4" fill="#00ffff"/>
<rect x="338" y="510" width="8" height="4" fill="#80ffff"/>
<rect x="398" y="510" width="8" height="8" fill="#00ffff"/>
<rect x="406" y="510" width="4" height="4" fill="#0000ff"/>
<rect x="410" y="510" width="4" height="4" fill="#00c800"/>
<rect x="414" y="510" width="8" height="4" fill="#0000ff"/>
<rect x="422" y="510" width="4" height="4" fill="#0080ff"/>
<rect x="426" y="510" width="4" height="12" fill="#00ffff"/>
<rect x="438" y="510" width="4" height="12" fill="#00c800"/>
<rect x="442" y="510" width="4" height="4" fill="#0080ff"/>
<rect x="446" y="510" width="4" height="4" fill="#0000ff"/>
<rect x="450" y="510" width="4" height="40" fill="#0080ff"/>
<rect x="454" y="510" width="12" height="4" fill="#00ffff"/>
<rect x="466" y="510" width="4" height="12" fill="#80ffff"/>
<rect x="486" y="510" width="8" height="12" fill="#80ffff"/>
<rect x="634" y="510" width="8" height="4" fill="#80ffff"/>
<rect x="30" y="514" width="12" height="4" fill="#80ffff"/>
<rect x="302" y="514" width="32" height="4" fill="#80ffff"/>
<rect x="334" y="514" width="8" height="4" fill="#00ffff"/>
<rect x="342" y="514" width="4" height="8" fill="#80ffff"/>
<rect x="350" y="514" width="12" height="8" fill="#80ffff"/>
<rect x="406" y="514" width="8" height="4" fill="#0000ff"/>
<rect x="414" y="514" width="4" height="4" fill="#0080ff"/>
<rect x="418" y="514" width="8" height="4" fill="#0000ff"/>
<rect x="430" y="514" width="8" height="8" fill="#0000ff"/>
<rect x="442" y="514" width="8" height="8" fill="#0000ff"/>
<rect x="454" y="514" width="4" height="8" fill="#00ffff"/>
<rect x="458" y="514" width="4" height="12" fill="#0080ff"/>
<rect x="462" y="514" width="4" height="12" fill="#00ffff"/>
<rect x="594" y="514" width="28" height="4" fill="#80ffff"/>
<rect x="626" y="514" width="4" height="4" fill="#80ffff"/>
<rect x="638" y="514" width="16" height="4" fill="#80ffff"/>
<rect x="686" y="514" width="16" height="16" fill="#80ffff"/>
<rect x="34" y="518" width="12" height="4" fill="#80ffff"/>
<rect x="302" y="518" width="36" height="4" fill="#80ffff"/>
<rect x="338" y="518" width="4" height="4" fill="#00ffff"/>
<rect x="390" y="518" width="12" height="4" fill="#0080ff"/>
<rect x="402" y="518" width="4" height="4" fill="#0000ff"/>
<rect x="406" y="518" width="4" height="12" fill="#00ffff"/>
<rect x="410" y="518" width="4" height="8" fill="#0000ff"/>
<rect x="414" y="518" width="4" height="4" fill="#00ffff"/>
<rect x="418" y="518" width="4" height="4" fill="#0080ff"/>
<rect x="422" y="518" width="4" height="4" fill="#0000ff"/>
<rect x="474" y="518" width="4" height="4" fill="#80ffff"/>
<rect x="602" y="518" width="16" height="4" fill="#80ffff"/>
<rect x="634" y="518" width="20" height="4" fill="#80ffff"/>
<rect x="30" y="522" width="16" height="4" fill="#80ffff"/>
<rect x="302" y="522" width="32" height="8" fill="#80ffff"/>
<rect x="334" y="522" width="8" height="8" fill="#00ffff"/>
<rect x="342" y="522" width="20" height="4" fill="#80ffff"/>
<rect x="382" y="522" width="4" height="32" fill="#80ffff"/>
<rect x="386" y="522" width="4" height="4" fill="#00ffff"/>
<rect x="390" y="522" width="4" height="4" fill="#0080ff"/>
<rect x="394" y="522" width="4" height="8" fill="#0000ff"/>
<rect x="398" y="522" width="8" height="8" fill="#0080ff"/>
<rect x="414" y="522" width="8" height="4" fill="#00ffff"/>
<rect x="422" y="522" width="4" height="4" fill="#0080ff"/>
<rect x="426" y="522" width="4" height="8" fill="#80ffff"/>
<rect x="430" y="522" width="4" height="32" fill="#0080ff"/>
<rect x="434" y="522" width="4" height="4" fill="#0000ff"/>
<rect x="438" y="522" width="8" height="4" fill="#00c800"/>
<rect x="446" y="522" width="4" height="4" fill="#0000ff"/>
<rect x="454" y="522" width="4" height="8" fill="#80ffff"/>
<rect x="466" y="522" width="12" height="12" fill="#80ffff"/>
<rect x="482" y="522" width="8" height="12" fill="#80ffff"/>
<rect x="610" y="522" width="4" height="4" fill="#80ffff"/>
<rect x="630" y="522" width="24" height="4" fill="#80ffff"/>
<rect x="30" y="526" width="12" height="4" fill="#80ffff"/>
<rect x="342" y="526" width="24" height="4" fill="#80ffff"/>
<rect x="386" y="526" width="8" height="4" fill="#0080ff"/>
<rect x="410" y="526" width="4" height="4" fill="#0080ff"/>
<rect x="414" y="526" width="4" height="4" fill="#00ffff"/>
<rect x="418" y="526" width="4" height="4" fill="#80ffff"/>
<rect x="422" y="526" width="4" height="4" fill="#00ffff"/>
<rect x="434" y="526" width="8" height="16" fill="#0000ff"/>
<rect x="442" y="526" width="8" height="8" fill="#00c800"/>
<rect x="458" y="526" width="8" height="4" fill="#00ffff"/>
<rect x="598" y="526" width="8" height="4" fill="#80ffff"/>
<rect x="610" y="526" width="8" height="4" fill="#80ffff"/>
<rect x="626" y="526" width="28" height="24" fill="#80ffff"/>
<rect x="706" y="526" width="4" height="4" fill="#80ffff"/>
<rect x="30" y="530" width="8" height="4" fill="#80ffff"/>
<rect x="306" y="530" width="32" height="4" fill="#80ffff"/>
<rect x="338" y="530" width="8" height="8" fill="#00ffff"/>
<rect x="346" y="530" width="24" height="8" fill="#80ffff"/>
<rect x="386" y="530" width="16" height="4" fill="#0000ff"/>
<rect x="402" y="530" width="8" height="4" fill="#0080ff"/>
<rect x="410" y="530" width="8" height="4" fill="#00ffff"/>
<rect x="418" y="530" width="8" height="16" fill="#80ffff"/>
<rect x="426" y="530" width="4" height="24" fill="#00ffff"/>
<rect x="454" y="530" width="12" height="4" fill="#00ffff"/>
<rect x="598" y="530" width="20" height="8" fill="#80ffff"/>
<rect x="686" y="530" width="24" height="20" fill="#80ffff"/>
<rect x="30" y="534" width="4" height="8" fill="#80ffff"/>
<rect x="306" y="534" width="12" height="4" fill="#80ffff"/>
<rect x="318" y="534" width="4" height="4" fill="#00ffff"/>
<rect x="322" y="534" width="16" height="4" fill="#80ffff"/>
<rect x="386" y="534" width="20" height="4" fill="#0000ff"/>
<rect x="406" y="534" width="8" height="4" fill="#0080ff"/>
<rect x="414" y="534" width="4" height="4" fill="#00ffff"/>
<rect x="442" y="534" width="4" height="8" fill="#80ff40"/>
<rect x="446" y="534" width="4" height="4" fill="#00c800"/>
<rect x="454" y="534" width="4" height="8" fill="#00ffff"/>
<rect x="458" y="534" width="8" height="4" fill="#0080ff"/>
<rect x="466" y="534" width="24" height="4" fill="#80ffff"/>
<rect x="302" y="538" width="16" height="8" fill="#80ffff"/>
<rect x="318" y="538" width="8" height="4" fill="#00ffff"/>
<rect x="326" y="538" width="8" height="4" fill="#80ffff"/>
<rect x="334" y="538" width="12" height="4" fill="#00ffff"/>
<rect x="346" y="538" width="20" height="4" fill="#80ffff"/>
<rect x="386" y="538" width="8" height="4" fill="#0000ff"/>
<rect x="394" y="538" width="8" height="4" fill="#00c800"/>
<rect x="402" y="538" width="8" height="12" fill="#0000ff"/>
<rect x="410" y="538" width="8" height="4" fill="#00ffff"/>
<rect x="446" y="538" width="4" height="4" fill="#0000ff"/>
<rect x="458" y="538" width="4" height="4" fill="#0080ff"/>
<rect x="462" y="538" width="28" height="4" fill="#80ffff"/>
<rect x="602" y="538" width="16" height="12" fill="#80ffff"/>
<rect x="318" y="542" width="4" height="4" fill="#00ffff"/>
<rect x="322" y="542" width="4" height="4" fill="#80ffff"/>
<rect x="326" y="542" width="4" height="4" fill="#00ffff"/>
<rect x="330" y="542" width="4" height="4" fill="#80ffff"/>
<rect x="334" y="542" width="4" height="4" fill="#00ffff"/>
<rect x="338" y="542" width="4" height="4" fill="#80ffff"/>
<rect x="342" y="542" width="4" height="8" fill="#00ffff"/>
<rect x="346" y="542" width="24" height="8" fill="#80ffff"/>
<rect x="386" y="542" width="12" height="4" fill="#00c800"/>
<rect x="398" y="542" width="4" height="4" fill="#80ff40"/>
<rect x="410" y="542" width="4" height="16" fill="#0080ff"/>
<rect x="414" y="542" width="4" height="4" fill="#00ffff"/>
<rect x="434" y="542" width="4" height="8" fill="#00c800"/>
<rect x="438" y="542" width="4" height="8" fill="#0000ff"/>
<rect x="442" y="542" width="4" height="4" fill="#00c800"/>
<rect x="446" y="542" width="4" height="4" fill="#80ff40"/>
<rect x="454" y="542" width="8" height="4" fill="#00ffff"/>
<rect x="462" y="542" width="16" height="4" fill="#80ffff"/>
<rect x="482" y="542" width="8" height="4" fill="#80ffff"/>
<rect x="302" y="546" width="20" height="8" fill="#80ffff"/>
<rect x="322" y="546" width="4" height="4" fill="#00ffff"/>
<rect x="326" y="546" width="4" height="4" fill="#80ffff"/>
<rect x="330" y="546" width="4" height="4" fill="#00ffff"/>
<rect x="334" y="546" width="8" height="4" fill="#80ffff"/>
<rect x="386" y="546" width="4" height="12" fill="#0000ff"/>
<rect x="390" y="546" width="4" height="12" fill="#00c800"/>
<rect x="394" y="546" width="8" height="4" fill="#ffff00"/>
<rect x="414" y="546" width="8" height="4" fill="#00ffff"/>
<rect x="422" y="546" width="4" height="4" fill="#80ffff"/>
<rect x="442" y="546" width="8" height="8" fill="#80ff40"/>
<rect x="454" y="546" width="4" height="12" fill="#0000ff"/>
<rect x="458" y="546" width="4" height="4" fill="#80ffff"/>
<rect x="462" y="546" width="4" height="4" fill="#00ffff"/>
<rect x="466" y="546" width="24" height="4" fill="#80ffff"/>
<rect x="322" y="550" width="8" height="4" fill="#00ffff"/>
<rect x="330" y="550" width="12" height="4" fill="#80ffff"/>
<rect x="342" y="550" width="8" height="4" fill="#00ffff"/>
<rect x="350" y="550" width="24" height="8" fill="#80ffff"/>
<rect x="394" y="550" width="4" height="8" fill="#80ff40"/>
<rect x="398" y="550" width="4" height="8" fill="#ffff00"/>
<rect x="402" y="550" width="8" height="8" fill="#00c800"/>
<rect x="414" y="550" width="4" height="8" fill="#0000ff"/>
<rect x="418" y="550" width="8" height="4" fill="#0080ff"/>
<rect x="434" y="550" width="4" height="8" fill="#0000ff"/>
<rect x="438" y="550" width="4" height="8" fill="#00c800"/>
<rect x="450" y="550" width="4" height="8" fill="#00ffff"/>
<rect x="458" y="550" width="32" height="4" fill="#80ffff"/>
<rect x="602" y="550" width="24" height="8" fill="#80ffff"/>
<rect x="630" y="550" width="32" height="8" fill="#80ffff"/>
<rect x="686" y="550" width="28" height="8" fill="#80ffff"/>
<rect x="302" y="554" width="24" height="4" fill="#80ffff"/>
<rect x="326" y="554" width="8" height="4" fill="#00ffff"/>
<rect x="334" y="554" width="12" height="8" fill="#80ffff"/>
<rect x="346" y="554" width="4" height="8" fill="#00ffff"/>
<rect x="418" y="554" width="16" height="4" fill="#00ffff"/>
<rect x="442" y="554" width="4" height="4" fill="#ffff00"/>
<rect x="446" y="554" width="4" height="4" fill="#80ff40"/>
<rect x="458" y="554" width="12" height="8" fill="#80ffff"/>
<rect x="474" y="554" width="16" height="4" fill="#80ffff"/>
<rect x="306" y="558" width="24" height="4" fill="#80ffff"/>
<rect x="330" y="558" width="4" height="4" fill="#00ffff"/>
<rect x="350" y="558" width="16" height="4" fill="#80ffff"/>
<rect x="386" y="558" width="4" height="4" fill="#00ffff"/>
<rect x="390" y="558" width="4" height="4" fill="#0080ff"/>
<rect x="394" y="558" width="12" height="4" fill="#0000ff"/>
<rect x="406" y="558" width="4" height="4" fill="#0080ff"/>
<rect x="410" y="558" width="28" height="4" fill="#00ffff"/>
<rect x="438" y="558" width="4" height="4" fill="#0080ff"/>
<rect x="442" y="558" width="8" height="4" fill="#0000ff"/>
<rect x="450" y="558" width="8" height="4" fill="#00ffff"/>
<rect x="478" y="558" width="4" height="4" fill="#80ffff"/>
<rect x="486" y="558" width="4" height="4" fill="#80ffff"/>
<rect x="642" y="558" width="16" height="4" fill="#80ffff"/>
<rect x="686" y="558" width="24" height="4" fill="#80ffff"/>
<rect x="454" y="727" width="4" height="4" fill="#0000c8"/>
<rect x="414" y="731" width="8" height="4" fill="#00c0ff"/>
<rect x="454" y="731" width="4" height="4" fill="#00c0ff"/>
<rect x="414" y="735" width="8" height="8" fill="#00ffff"/>
<rect x="422" y="735" width="4" height="12" fill="#00c0ff"/>
<rect x="454" y="735" width="4" height="4" fill="#00ffff"/>
<rect x="390" y="739" width="4" height="4" fill="#0000c8"/>
<rect x="454" y="739" width="4" height="8" fill="#00c800"/>
<rect x="458" y="739" width="4" height="4" fill="#00ffff"/>
<rect x="638" y="739" width="4" height="12" fill="#0000c8"/>
<rect x="338" y="743" width="4" height="4" fill="#0000c8"/>
<rect x="390" y="743" width="4" height="2" fill="#00c0ff"/>
<rect x="394" y="743" width="4" height="2" fill="#0000c8"/>
<rect x="414" y="743" width="8" height="4" fill="#00c800"/>
<rect x="458" y="743" width="8" height="4" fill="#00ffff"/>
<rect x="390" y="745" width="6" height="2" fill="#00c0ff"/>
<rect x="396" y="745" width="2" height="6" fill="#0000c8"/>
<rect x="34" y="747" width="4" height="4" fill="#0000c8"/>
<rect x="46" y="747" width="4" height="4" fill="#0000c8"/>
<rect x="338" y="747" width="2" height="4" fill="#0000c8"/>
<rect x="340" y="747" width="6" height="2" fill="#00c0ff"/>
<rect x="346" y="747" width="4" height="2" fill="#0000c8"/>
<rect x="390" y="747" width="6" height="4" fill="#00ffff"/>
<rect x="402" y="747" width="8" height="2" fill="#0000c8"/>
<rect x="410" y="747" width="4" height="2" fill="#00c0ff"/>
<rect x="414" y="747" width="4" height="4" fill="#00c800"/>
<rect x="418" y="747" width="8" height="4" fill="#00ffff"/>
<rect x="454" y="747" width="4" height="4" fill="#ffff00"/>
<rect x="458" y="747" width="4" height="4" fill="#00c800"/>
<rect x="462" y="747" width="4" height="4" fill="#00c0ff"/>
<rect x="340" y="749" width="8" height="2" fill="#00c0ff"/>
<rect x="348" y="749" width="2" height="2" fill="#0000c8"/>
<rect x="402" y="749" width="2" height="2" fill="#0000c8"/>
<rect x="404" y="749" width="10" height="2" fill="#00c0ff"/>
<rect x="30" y="751" width="8" height="8" fill="#0000c8"/>
<rect x="42" y="751" width="8" height="4" fill="#00c0ff"/>
<rect x="50" y="751" width="4" height="4" fill="#0000c8"/>
<rect x="314" y="751" width="4" height="2" fill="#0000c8"/>
<rect x="318" y="751" width="8" height="2" fill="#00c0ff"/>
<rect x="338" y="751" width="8" height="4" fill="#00c0ff"/>
<rect x="346" y="751" width="4" height="4" fill="#0000c8"/>
<rect x="350" y="751" width="4" height="4" fill="#00c0ff"/>
<rect x="390" y="751" width="4" height="6" fill="#00ffff"/>
<rect x="394" y="751" width="8" height="2" fill="#0000c8"/>
<rect x="402" y="751" width="4" height="2" fill="#00c0ff"/>
<rect x="406" y="751" width="8" height="4" fill="#0000c8"/>
<rect x="414" y="751" width="8" height="8" fill="#00c800"/>
<rect x="422" y="751" width="4" height="8" fill="#00ffff"/>
<rect x="426" y="751" width="4" height="8" fill="#00c0ff"/>
<rect x="450" y="751" width="4" height="2" fill="#0000c8"/>
<rect x="454" y="751" width="8" height="8" fill="#ffff00"/>
<rect x="462" y="751" width="4" height="6" fill="#00c800"/>
<rect x="638" y="751" width="4" height="4" fill="#00c0ff"/>
<rect x="654" y="751" width="12" height="2" fill="#0000c8"/>
<rect x="670" y="751" width="4" height="4" fill="#0000c8"/>
<rect x="314" y="753" width="2" height="2" fill="#0000c8"/>
<rect x="316" y="753" width="10" height="2" fill="#00c0ff"/>
<rect x="394" y="753" width="4" height="2" fill="#0000c8"/>
<rect x="398" y="753" width="8" height="2" fill="#00c0ff"/>
<rect x="450" y="753" width="2" height="2" fill="#0000c8"/>
<rect x="452" y="753" width="2" height="2" fill="#00c0ff"/>
<rect x="654" y="753" width="4" height="2" fill="#0000c8"/>
<rect x="658" y="753" width="6" height="2" fill="#00ffff"/>
<rect x="664" y="753" width="2" height="2" fill="#0000c8"/>
<rect x="38" y="755" width="12" height="4" fill="#00c0ff"/>
<rect x="286" y="755" width="4" height="4" fill="#00c0ff"/>
<rect x="310" y="755" width="4" height="2" fill="#0000c8"/>
<rect x="314" y="755" width="10" height="2" fill="#00c0ff"/>
<rect x="324" y="755" width="2" height="2" fill="#0000c8"/>
<rect x="330" y="755" width="4" height="2" fill="#0000c8"/>
<rect x="334" y="755" width="20" height="2" fill="#00c0ff"/>
<rect x="370" y="755" width="4" height="4" fill="#0000c8"/>
<rect x="386" y="755" width="4" height="2" fill="#0000c8"/>
<rect x="394" y="755" width="8" height="4" fill="#00c0ff"/>
<rect x="402" y="755" width="8" height="4" fill="#00ffff"/>
<rect x="410" y="755" width="4" height="4" fill="#00c0ff"/>
<rect x="450" y="755" width="4" height="8" fill="#00c0ff"/>
<rect x="466" y="755" width="4" height="2" fill="#0000c8"/>
<rect x="638" y="755" width="2" height="2" fill="#0000c8"/>
<rect x="640" y="755" width="2" height="2" fill="#00c0ff"/>
<rect x="642" y="755" width="4" height="2" fill="#0000c8"/>
<rect x="654" y="755" width="2" height="4" fill="#0000c8"/>
<rect x="656" y="755" width="10" height="2" fill="#00ffff"/>
<rect x="666" y="755" width="8" height="2" fill="#0000c8"/>
<rect x="310" y="757" width="2" height="2" fill="#0000c8"/>
<rect x="312" y="757" width="10" height="2" fill="#00c0ff"/>
<rect x="322" y="757" width="4" height="2" fill="#0000c8"/>
<rect x="330" y="757" width="2" height="6" fill="#0000c8"/>
<rect x="332" y="757" width="22" height="2" fill="#00c0ff"/>
<rect x="386" y="757" width="2" height="2" fill="#0000c8"/>
<rect x="388" y="757" width="6" height="2" fill="#00ffff"/>
<rect x="462" y="757" width="6" height="2" fill="#00c800"/>
<rect x="468" y="757" width="2" height="2" fill="#0000c8"/>
<rect x="638" y="757" width="8" height="2" fill="#0000c8"/>
<rect x="656" y="757" width="14" height="2" fill="#00ffff"/>
<rect x="670" y="757" width="4" height="2" fill="#0000c8"/>
<rect x="30" y="759" width="2" height="4" fill="#0000c8"/>
<rect x="32" y="759" width="18" height="4" fill="#00c0ff"/>
<rect x="310" y="759" width="12" height="4" fill="#00c0ff"/>
<rect x="332" y="759" width="10" height="4" fill="#00c0ff"/>
<rect x="342" y="759" width="4" height="4" fill="#00ffff"/>
<rect x="346" y="759" width="8" height="4" fill="#00c0ff"/>
<rect x="370" y="759" width="4" height="6" fill="#00c0ff"/>
<rect x="386" y="759" width="4" height="4" fill="#00c0ff"/>
<rect x="390" y="759" width="4" height="4" fill="#00ffff"/>
<rect x="394" y="759" width="4" height="4" fill="#00c800"/>
<rect x="398" y="759" width="4" height="4" fill="#00c0ff"/>
<rect x="402" y="759" width="4" height="4" fill="#00ffff"/>
<rect x="406" y="759" width="4" height="4" fill="#00c0ff"/>
<rect x="410" y="759" width="12" height="8" fill="#ffff00"/>
<rect x="422" y="759" width="4" height="8" fill="#00c800"/>
<rect x="426" y="759" width="2" height="4" fill="#00c0ff"/>
<rect x="428" y="759" width="2" height="4" fill="#0000c8"/>
<rect x="454" y="759" width="4" height="8" fill="#00c800"/>
<rect x="458" y="759" width="4" height="8" fill="#ffff00"/>
<rect x="462" y="759" width="4" height="4" fill="#00ffff"/>
<rect x="466" y="759" width="4" height="4" fill="#00c0ff"/>
<rect x="642" y="759" width="4" height="4" fill="#0000c8"/>
<rect x="654" y="759" width="12" height="4" fill="#00ffff"/>
<rect x="666" y="759" width="6" height="4" fill="#00c0ff"/>
<rect x="672" y="759" width="2" height="4" fill="#0000c8"/>
<rect x="30" y="763" width="18" height="2" fill="#00c0ff"/>
<rect x="48" y="763" width="2" height="2" fill="#0000c8"/>
<rect x="290" y="763" width="4" height="12" fill="#0000c8"/>
<rect x="310" y="763" width="16" height="4" fill="#00c0ff"/>
<rect x="330" y="763" width="12" height="12" fill="#00c0ff"/>
<rect x="342" y="763" width="8" height="16" fill="#00ffff"/>
<rect x="350" y="763" width="8" height="6" fill="#00c0ff"/>
<rect x="374" y="763" width="4" height="2" fill="#0000c8"/>
<rect x="386" y="763" width="2" height="4" fill="#0000c8"/>
<rect x="388" y="763" width="2" height="4" fill="#00c0ff"/>
<rect x="390" y="763" width="12" height="4" fill="#00c800"/>
<rect x="402" y="763" width="8" height="4" fill="#00ffff"/>
<rect x="426" y="763" width="4" height="8" fill="#00c0ff"/>
<rect x="438" y="763" width="4" height="10" fill="#00c0ff"/>
<rect x="450" y="763" width="4" height="4" fill="#00ffff"/>
<rect x="462" y="763" width="6" height="4" fill="#00c0ff"/>
<rect x="468" y="763" width="2" height="4" fill="#0000c8"/>
<rect x="602" y="763" width="4" height="4" fill="#0000c8"/>
<rect x="654" y="763" width="2" height="2" fill="#0000c8"/>
<rect x="656" y="763" width="10" height="2" fill="#00ffff"/>
<rect x="666" y="763" width="8" height="4" fill="#00c0ff"/>
<rect x="698" y="763" width="4" height="4" fill="#0000c8"/>
<rect x="30" y="765" width="16" height="2" fill="#00c0ff"/>
<rect x="46" y="765" width="4" height="2" fill="#0000c8"/>
<rect x="370" y="765" width="6" height="2" fill="#00c0ff"/>
<rect x="376" y="765" width="2" height="2" fill="#0000c8"/>
<rect x="654" y="765" width="4" height="2" fill="#0000c8"/>
<rect x="658" y="765" width="8" height="6" fill="#00ffff"/>
<rect x="30" y="767" width="8" height="4" fill="#00c0ff"/>
<rect x="38" y="767" width="6" height="4" fill="#00ffff"/>
<rect x="44" y="767" width="2" height="8" fill="#0000c8"/>
<rect x="310" y="767" width="2" height="2" fill="#0000c8"/>
<rect x="312" y="767" width="12" height="2" fill="#00c0ff"/>
<rect x="324" y="767" width="2" height="20" fill="#0000c8"/>
<rect x="358" y="767" width="4" height="2" fill="#0000c8"/>
<rect x="370" y="767" width="2" height="2" fill="#0000c8"/>
<rect x="372" y="767" width="2" height="2" fill="#00c0ff"/>
<rect x="374" y="767" width="4" height="2" fill="#0000c8"/>
<rect x="378" y="767" width="4" height="4" fill="#ffffff"/>
<rect x="386" y="767" width="4" height="4" fill="#00c0ff"/>
<rect x="390" y="767" width="8" height="28" fill="#00c800"/>
<rect x="398" y="767" width="4" height="12" fill="#00ffff"/>
<rect x="402" y="767" width="8" height="16" fill="#00c800"/>
<rect x="410" y="767" width="8" height="4" fill="#ffff00"/>
<rect x="418" y="767" width="4" height="4" fill="#00c800"/>
<rect x="422" y="767" width="4" height="16" fill="#00ffff"/>
<rect x="450" y="767" width="8" height="4" fill="#00c800"/>
<rect x="458" y="767" width="4" height="4" fill="#ff8000"/>
<rect x="462" y="767" width="4" height="4" fill="#00ffff"/>
<rect x="466" y="767" width="4" height="4" fill="#00c0ff"/>
<rect x="590" y="767" width="8" height="2" fill="#0000c8"/>
<rect x="598" y="767" width="4" height="2" fill="#00c0ff"/>
<rect x="602" y="767" width="8" height="4" fill="#0000c8"/>
<rect x="618" y="767" width="4" height="4" fill="#0000c8"/>
<rect x="634" y="767" width="8" height="4" fill="#0000c8"/>
<rect x="666" y="767" width="6" height="2" fill="#00c0ff"/>
<rect x="672" y="767" width="2" height="2" fill="#0000c8"/>
<rect x="310" y="769" width="4" height="2" fill="#0000c8"/>
<rect x="314" y="769" width="10" height="6" fill="#00c0ff"/>
<rect x="350" y="769" width="10" height="10" fill="#00c0ff"/>
<rect x="360" y="769" width="2" height="10" fill="#0000c8"/>
<rect x="370" y="769" width="8" height="2" fill="#0000c8"/>
<rect x="590" y="769" width="2" height="2" fill="#0000c8"/>
<rect x="592" y="769" width="10" height="2" fill="#00c0ff"/>
<rect x="666" y="769" width="4" height="2" fill="#00c0ff"/>
<rect x="670" y="769" width="4" height="2" fill="#0000c8"/>
<rect x="30" y="771" width="4" height="4" fill="#00c0ff"/>
<rect x="34" y="771" width="4" height="4" fill="#0000c8"/>
<rect x="38" y="771" width="6" height="4" fill="#00c0ff"/>
<rect x="374" y="771" width="16" height="4" fill="#0000c8"/>
<rect x="410" y="771" width="4" height="12" fill="#ffff00"/>
<rect x="414" y="771" width="8" height="12" fill="#00c800"/>
<rect x="426" y="771" width="4" height="12" fill="#00c800"/>
<rect x="434" y="771" width="4" height="2" fill="#0000c8"/>
<rect x="442" y="771" width="8" height="2" fill="#0000c8"/>
<rect x="450" y="771" width="4" height="12" fill="#ffff00"/>
<rect x="454" y="771" width="4" height="12" fill="#ff8000"/>
<rect x="458" y="771" width="4" height="12" fill="#00ffff"/>
<rect x="462" y="771" width="4" height="4" fill="#00c0ff"/>
<rect x="466" y="771" width="4" height="4" fill="#ffffff"/>
<rect x="586" y="771" width="4" height="2" fill="#0000c8"/>
<rect x="590" y="771" width="16" height="2" fill="#00c0ff"/>
<rect x="606" y="771" width="16" height="4" fill="#0000c8"/>
<rect x="634" y="771" width="12" height="4" fill="#0000c8"/>
<rect x="658" y="771" width="4" height="4" fill="#00c0ff"/>
<rect x="662" y="771" width="6" height="4" fill="#00ffff"/>
<rect x="668" y="771" width="2" height="8" fill="#0000c8"/>
<rect x="434" y="773" width="2" height="2" fill="#0000c8"/>
<rect x="436" y="773" width="14" height="2" fill="#00c0ff"/>
<rect x="586" y="773" width="2" height="2" fill="#0000c8"/>
<rect x="588" y="773" width="18" height="2" fill="#00c0ff"/>
<rect x="30" y="775" width="2" height="4" fill="#0000c8"/>
<rect x="32" y="775" width="2" height="4" fill="#00c0ff"/>
<rect x="34" y="775" width="12" height="4" fill="#0000c8"/>
<rect x="298" y="775" width="4" height="2" fill="#0000c8"/>
<rect x="302" y="775" width="8" height="2" fill="#00c0ff"/>
<rect x="314" y="775" width="2" height="4" fill="#0000c8"/>
<rect x="316" y="775" width="8" height="4" fill="#00c0ff"/>
<rect x="330" y="775" width="2" height="4" fill="#0000c8"/>
<rect x="332" y="775" width="10" height="4" fill="#00c0ff"/>
<rect x="374" y="775" width="4" height="4" fill="#0000c8"/>
<rect x="382" y="775" width="2" height="4" fill="#0000c8"/>
<rect x="384" y="775" width="6" height="4" fill="#00c0ff"/>
<rect x="430" y="775" width="4" height="4" fill="#00c0ff"/>
<rect x="434" y="775" width="4" height="4" fill="#0000c8"/>
<rect x="438" y="775" width="12" height="4" fill="#00c0ff"/>
<rect x="462" y="775" width="8" height="8" fill="#0000c8"/>
<rect x="586" y="775" width="12" height="8" fill="#00c0ff"/>
<rect x="598" y="775" width="4" height="8" fill="#00ffff"/>
<rect x="602" y="775" width="8" height="4" fill="#00c0ff"/>
<rect x="610" y="775" width="16" height="4" fill="#0000c8"/>
<rect x="634" y="775" width="2" height="4" fill="#0000c8"/>
<rect x="636" y="775" width="6" height="4" fill="#00c0ff"/>
<rect x="642" y="775" width="8" height="4" fill="#0000c8"/>
<rect x="662" y="775" width="6" height="4" fill="#00c0ff"/>
<rect x="298" y="777" width="2" height="2" fill="#0000c8"/>
<rect x="300" y="777" width="10" height="2" fill="#00c0ff"/>
<rect x="30" y="779" width="12" height="4" fill="#0000c8"/>
<rect x="294" y="779" width="4" height="4" fill="#0000c8"/>
<rect x="298" y="779" width="12" height="2" fill="#00c0ff"/>
<rect x="310" y="779" width="4" height="2" fill="#0000c8"/>
<rect x="314" y="779" width="10" height="2" fill="#00c0ff"/>
<rect x="330" y="779" width="8" height="4" fill="#00c0ff"/>
<rect x="338" y="779" width="4" height="12" fill="#0000c8"/>
<rect x="342" y="779" width="16" height="4" fill="#00c0ff"/>
<rect x="358" y="779" width="4" height="4" fill="#0000c8"/>
<rect x="362" y="779" width="4" height="4" fill="#00c0ff"/>
<rect x="382" y="779" width="8" height="4" fill="#0000c8"/>
<rect x="398" y="779" width="4" height="4" fill="#00c0ff"/>
<rect x="430" y="779" width="4" height="4" fill="#00ffff"/>
<rect x="434" y="779" width="4" height="4" fill="#00c0ff"/>
<rect x="438" y="779" width="4" height="4" fill="#00ffff"/>
<rect x="442" y="779" width="4" height="4" fill="#00c0ff"/>
<rect x="446" y="779" width="4" height="4" fill="#00ffff"/>
<rect x="602" y="779" width="10" height="4" fill="#00c0ff"/>
<rect x="612" y="779" width="2" height="4" fill="#0000c8"/>
<rect x="614" y="779" width="4" height="4" fill="#ffffff"/>
<rect x="618" y="779" width="6" height="6" fill="#00c0ff"/>
<rect x="624" y="779" width="2" height="8" fill="#0000c8"/>
<rect x="634" y="779" width="16" height="4" fill="#0000c8"/>
<rect x="662" y="779" width="2" height="2" fill="#0000c8"/>
<rect x="664" y="779" width="2" height="2" fill="#00c0ff"/>
<rect x="666" y="779" width="4" height="2" fill="#0000c8"/>
<rect x="298" y="781" width="26" height="2" fill="#00c0ff"/>
<rect x="662" y="781" width="8" height="2" fill="#0000c8"/>
<rect x="30" y="783" width="4" height="4" fill="#ffffff"/>
<rect x="34" y="783" width="4" height="8" fill="#0000c8"/>
<rect x="298" y="783" width="8" height="4" fill="#00c0ff"/>
<rect x="306" y="783" width="8" height="4" fill="#0000c8"/>
<rect x="314" y="783" width="4" height="4" fill="#ffffff"/>
<rect x="318" y="783" width="6" height="4" fill="#00c0ff"/>
<rect x="330" y="783" width="2" height="2" fill="#0000c8"/>
<rect x="332" y="783" width="6" height="2" fill="#00c0ff"/>
<rect x="342" y="783" width="4" height="8" fill="#00c0ff"/>
<rect x="346" y="783" width="8" height="8" fill="#00ffff"/>
<rect x="354" y="783" width="6" height="4" fill="#00c0ff"/>
<rect x="360" y="783" width="2" height="4" fill="#0000c8"/>
<rect x="362" y="783" width="4" height="4" fill="#ffffff"/>
<rect x="382" y="783" width="2" height="2" fill="#0000c8"/>
<rect x="384" y="783" width="6" height="2" fill="#00c0ff"/>
<rect x="398" y="783" width="8" height="16" fill="#00ffff"/>
<rect x="406" y="783" width="4" height="12" fill="#00c800"/>
<rect x="410" y="783" width="8" height="8" fill="#ffff00"/>
<rect x="418" y="783" width="8" height="8" fill="#00ffff"/>
<rect x="426" y="783" width="8" height="8" fill="#00c800"/>
<rect x="434" y="783" width="16" height="4" fill="#00ffff"/>
<rect x="450" y="783" width="4" height="4" fill="#00c800"/>
<rect x="454" y="783" width="4" height="4" fill="#ffff00"/>
<rect x="458" y="783" width="10" height="4" fill="#00ffff"/>
<rect x="468" y="783" width="2" height="10" fill="#0000c8"/>
<rect x="586" y="783" width="8" height="4" fill="#00c0ff"/>
<rect x="594" y="783" width="16" height="4" fill="#00ffff"/>
<rect x="610" y="783" width="8" height="2" fill="#0000c8"/>
<rect x="638" y="783" width="12" height="4" fill="#0000c8"/>
<rect x="686" y="783" width="8" height="8" fill="#0000c8"/>
<rect x="330" y="785" width="4" height="2" fill="#0000c8"/>
<rect x="334" y="785" width="4" height="6" fill="#00c0ff"/>
<rect x="382" y="785" width="4" height="2" fill="#0000c8"/>
<rect x="386" y="785" width="4" height="22" fill="#00c0ff"/>
<rect x="610" y="785" width="4" height="2" fill="#0000c8"/>
<rect x="614" y="785" width="10" height="2" fill="#00c0ff"/>
<rect x="298" y="787" width="10" height="4" fill="#00c0ff"/>
<rect x="308" y="787" width="2" height="4" fill="#0000c8"/>
<rect x="310" y="787" width="8" height="4" fill="#ffffff"/>
<rect x="318" y="787" width="8" height="2" fill="#00c0ff"/>
<rect x="326" y="787" width="4" height="2" fill="#0000c8"/>
<rect x="330" y="787" width="4" height="8" fill="#ffffff"/>
<rect x="354" y="787" width="4" height="4" fill="#00c0ff"/>
<rect x="358" y="787" width="8" height="4" fill="#0000c8"/>
<rect x="434" y="787" width="4" height="4" fill="#00ffff"/>
<rect x="438" y="787" width="4" height="4" fill="#00c800"/>
<rect x="442" y="787" width="8" height="4" fill="#00ffff"/>
<rect x="450" y="787" width="8" height="4" fill="#00c800"/>
<rect x="458" y="787" width="4" height="12" fill="#0000c8"/>
<rect x="462" y="787" width="6" height="6" fill="#00ffff"/>
<rect x="586" y="787" width="2" height="4" fill="#0000c8"/>
<rect x="588" y="787" width="6" height="4" fill="#00c0ff"/>
<rect x="594" y="787" width="8" height="4" fill="#00ffff"/>
<rect x="602" y="787" width="4" height="4" fill="#00c0ff"/>
<rect x="606" y="787" width="4" height="4" fill="#00ffff"/>
<rect x="610" y="787" width="20" height="4" fill="#0000c8"/>
<rect x="634" y="787" width="4" height="4" fill="#ffffff"/>
<rect x="638" y="787" width="8" height="4" fill="#0000c8"/>
<rect x="318" y="789" width="10" height="2" fill="#00c0ff"/>
<rect x="328" y="789" width="2" height="2" fill="#0000c8"/>
<rect x="34" y="791" width="4" height="6" fill="#00c0ff"/>
<rect x="302" y="791" width="2" height="14" fill="#0000c8"/>
<rect x="304" y="791" width="26" height="4" fill="#00c0ff"/>
<rect x="334" y="791" width="26" height="4" fill="#00c0ff"/>
<rect x="360" y="791" width="2" height="4" fill="#0000c8"/>
<rect x="362" y="791" width="4" height="4" fill="#ffffff"/>
<rect x="410" y="791" width="4" height="4" fill="#ffff00"/>
<rect x="414" y="791" width="12" height="4" fill="#00c800"/>
<rect x="426" y="791" width="4" height="4" fill="#00ffff"/>
<rect x="430" y="791" width="8" height="4" fill="#00c800"/>
<rect x="438" y="791" width="4" height="4" fill="#ffff00"/>
<rect x="442" y="791" width="16" height="4" fill="#00c800"/>
<rect x="486" y="791" width="8" height="8" fill="#0000c8"/>
<rect x="586" y="791" width="4" height="2" fill="#0000c8"/>
<rect x="590" y="791" width="8" height="2" fill="#00c0ff"/>
<rect x="598" y="791" width="4" height="2" fill="#00ffff"/>
<rect x="602" y="791" width="4" height="2" fill="#0000c8"/>
<rect x="606" y="791" width="6" height="4" fill="#00ffff"/>
<rect x="612" y="791" width="2" height="8" fill="#0000c8"/>
<rect x="614" y="791" width="4" height="4" fill="#ffffff"/>
<rect x="618" y="791" width="12" height="4" fill="#0000c8"/>
<rect x="634" y="791" width="8" height="8" fill="#0000c8"/>
<rect x="686" y="791" width="4" height="4" fill="#0000c8"/>
<rect x="690" y="791" width="2" height="4" fill="#00c0ff"/>
<rect x="692" y="791" width="2" height="4" fill="#0000c8"/>
<rect x="462" y="793" width="4" height="12" fill="#00ffff"/>
<rect x="466" y="793" width="4" height="2" fill="#0000c8"/>
<rect x="586" y="793" width="8" height="2" fill="#0000c8"/>
<rect x="594" y="793" width="4" height="2" fill="#00c0ff"/>
<rect x="598" y="793" width="8" height="2" fill="#0000c8"/>
<rect x="30" y="795" width="4" height="2" fill="#0000c8"/>
<rect x="38" y="795" width="4" height="2" fill="#0000c8"/>
<rect x="304" y="795" width="6" height="4" fill="#00c0ff"/>
<rect x="310" y="795" width="4" height="4" fill="#0000c8"/>
<rect x="314" y="795" width="4" height="4" fill="#00c0ff"/>
<rect x="318" y="795" width="4" height="4" fill="#0000c8"/>
<rect x="322" y="795" width="2" height="4" fill="#00c0ff"/>
<rect x="324" y="795" width="2" height="4" fill="#0000c8"/>
<rect x="326" y="795" width="4" height="4" fill="#ffffff"/>
<rect x="330" y="795" width="28" height="4" fill="#00c0ff"/>
<rect x="358" y="795" width="8" height="4" fill="#0000c8"/>
<rect x="390" y="795" width="4" height="12" fill="#00c800"/>
<rect x="394" y="795" width="4" height="16" fill="#ffff00"/>
<rect x="406" y="795" width="24" height="4" fill="#00c800"/>
<rect x="430" y="795" width="12" height="4" fill="#ffff00"/>
<rect x="442" y="795" width="12" height="4" fill="#00c800"/>
<rect x="454" y="795" width="4" height="12" fill="#00ffff"/>
<rect x="466" y="795" width="4" height="8" fill="#ffffff"/>
<rect x="594" y="795" width="4" height="4" fill="#0000c8"/>
<rect x="598" y="795" width="4" height="4" fill="#ffffff"/>
<rect x="602" y="795" width="2" height="2" fill="#0000c8"/>
<rect x="604" y="795" width="8" height="2" fill="#00c0ff"/>
<rect x="614" y="795" width="16" height="4" fill="#ffffff"/>
<rect x="646" y="795" width="8" height="4" fill="#ffffff"/>
<rect x="686" y="795" width="2" height="16" fill="#0000c8"/>
<rect x="688" y="795" width="6" height="2" fill="#00c0ff"/>
<rect x="694" y="795" width="8" height="2" fill="#0000c8"/>
<rect x="30" y="797" width="2" height="10" fill="#0000c8"/>
<rect x="32" y="797" width="8" height="4" fill="#00c0ff"/>
<rect x="40" y="797" width="2" height="4" fill="#0000c8"/>
<rect x="602" y="797" width="4" height="2" fill="#0000c8"/>
<rect x="606" y="797" width="6" height="2" fill="#00c0ff"/>
<rect x="688" y="797" width="10" height="2" fill="#00c0ff"/>
<rect x="698" y="797" width="4" height="2" fill="#0000c8"/>
<rect x="42" y="799" width="4" height="4" fill="#ffffff"/>
<rect x="304" y="799" width="10" height="4" fill="#00c0ff"/>
<rect x="314" y="799" width="16" height="2" fill="#0000c8"/>
<rect x="330" y="799" width="30" height="2" fill="#00c0ff"/>
<rect x="360" y="799" width="2" height="4" fill="#0000c8"/>
<rect x="398" y="799" width="4" height="4" fill="#00c800"/>
<rect x="402" y="799" width="8" height="4" fill="#00ffff"/>
<rect x="410" y="799" width="4" height="12" fill="#00c800"/>
<rect x="414" y="799" width="4" height="4" fill="#00ffff"/>
<rect x="418" y="799" width="8" height="4" fill="#00c800"/>
<rect x="426" y="799" width="4" height="4" fill="#00ffff"/>
<rect x="430" y="799" width="4" height="20" fill="#ffff00"/>
<rect x="434" y="799" width="4" height="20" fill="#00c800"/>
<rect x="438" y="799" width="12" height="16" fill="#ffff00"/>
<rect x="450" y="799" width="4" height="24" fill="#00c800"/>
<rect x="458" y="799" width="4" height="12" fill="#00c0ff"/>
<rect x="474" y="799" width="4" height="4" fill="#ffffff"/>
<rect x="486" y="799" width="4" height="4" fill="#0000c8"/>
<rect x="602" y="799" width="4" height="8" fill="#ffffff"/>
<rect x="606" y="799" width="2" height="2" fill="#0000c8"/>
<rect x="608" y="799" width="2" height="2" fill="#00c0ff"/>
<rect x="610" y="799" width="4" height="2" fill="#0000c8"/>
<rect x="634" y="799" width="16" height="4" fill="#0000c8"/>
<rect x="650" y="799" width="4" height="4" fill="#ffffff"/>
<rect x="688" y="799" width="6" height="4" fill="#00c0ff"/>
<rect x="694" y="799" width="8" height="4" fill="#0000c8"/>
<rect x="32" y="801" width="6" height="6" fill="#00c0ff"/>
<rect x="38" y="801" width="4" height="2" fill="#0000c8"/>
<rect x="314" y="801" width="12" height="2" fill="#0000c8"/>
<rect x="326" y="801" width="34" height="2" fill="#00c0ff"/>
<rect x="606" y="801" width="8" height="2" fill="#0000c8"/>
<rect x="38" y="803" width="8" height="4" fill="#ffffff"/>
<rect x="304" y="803" width="14" height="2" fill="#00c0ff"/>
<rect x="318" y="803" width="16" height="4" fill="#0000c8"/>
<rect x="334" y="803" width="20" height="8" fill="#00c0ff"/>
<rect x="354" y="803" width="8" height="8" fill="#0000c8"/>
<rect x="382" y="803" width="4" height="8" fill="#ffffff"/>
<rect x="398" y="803" width="8" height="8" fill="#00c800"/>
<rect x="406" y="803" width="4" height="8" fill="#00ffff"/>
<rect x="414" y="803" width="16" height="4" fill="#00ffff"/>
<rect x="466" y="803" width="4" height="2" fill="#0000c8"/>
<rect x="470" y="803" width="8" height="8" fill="#ffffff"/>
<rect x="482" y="803" width="8" height="4" fill="#ffffff"/>
<rect x="610" y="803" width="4" height="4" fill="#0000c8"/>
<rect x="630" y="803" width="4" height="4" fill="#ffffff"/>
<rect x="634" y="803" width="20" height="4" fill="#0000c8"/>
<rect x="688" y="803" width="12" height="4" fill="#00c0ff"/>
<rect x="700" y="803" width="2" height="4" fill="#0000c8"/>
<rect x="302" y="805" width="4" height="2" fill="#0000c8"/>
<rect x="306" y="805" width="12" height="2" fill="#00c0ff"/>
<rect x="462" y="805" width="6" height="4" fill="#00ffff"/>
<rect x="468" y="805" width="2" height="4" fill="#0000c8"/>
<rect x="30" y="807" width="4" height="8" fill="#0000c8"/>
<rect x="34" y="807" width="8" height="4" fill="#ffffff"/>
<rect x="294" y="807" width="4" height="12" fill="#ffffff"/>
<rect x="306" y="807" width="2" height="20" fill="#0000c8"/>
<rect x="308" y="807" width="10" height="4" fill="#00c0ff"/>
<rect x="318" y="807" width="4" height="4" fill="#0000c8"/>
<rect x="322" y="807" width="4" height="4" fill="#00c0ff"/>
<rect x="326" y="807" width="8" height="4" fill="#0000c8"/>
<rect x="362" y="807" width="4" height="4" fill="#ffffff"/>
<rect x="386" y="807" width="8" height="4" fill="#00c800"/>
<rect x="414" y="807" width="4" height="4" fill="#00ffff"/>
<rect x="418" y="807" width="8" height="16" fill="#00c0ff"/>
<rect x="426" y="807" width="4" height="4" fill="#00ffff"/>
<rect x="454" y="807" width="4" height="12" fill="#ffff00"/>
<rect x="482" y="807" width="4" height="12" fill="#0000c8"/>
<rect x="486" y="807" width="4" height="12" fill="#ffffff"/>
<rect x="598" y="807" width="8" height="4" fill="#ffffff"/>
<rect x="610" y="807" width="4" height="4" fill="#ffffff"/>
<rect x="626" y="807" width="12" height="4" fill="#0000c8"/>
<rect x="638" y="807" width="4" height="4" fill="#00c0ff"/>
<rect x="642" y="807" width="12" height="8" fill="#0000c8"/>
<rect x="688" y="807" width="6" height="4" fill="#00c0ff"/>
<rect x="694" y="807" width="8" height="8" fill="#0000c8"/>
<rect x="706" y="807" width="4" height="8" fill="#ffffff"/>
<rect x="462" y="809" width="4" height="2" fill="#00ffff"/>
<rect x="466" y="809" width="4" height="2" fill="#0000c8"/>
<rect x="34" y="811" width="4" height="4" fill="#ffffff"/>
<rect x="308" y="811" width="14" height="12" fill="#00c0ff"/>
<rect x="322" y="811" width="4" height="12" fill="#0000c8"/>
<rect x="326" y="811" width="4" height="4" fill="#00c0ff"/>
<rect x="330" y="811" width="4" height="4" fill="#0000c8"/>
<rect x="334" y="811" width="12" height="4" fill="#00c0ff"/>
<rect x="346" y="811" width="8" height="4" fill="#0000c8"/>
<rect x="354" y="811" width="4" height="4" fill="#00c0ff"/>
<rect x="358" y="811" width="8" height="4" fill="#0000c8"/>
<rect x="366" y="811" width="4" height="8" fill="#ffffff"/>
<rect x="382" y="811" width="4" height="4" fill="#0000c8"/>
<rect x="386" y="811" width="4" height="10" fill="#00c800"/>
<rect x="390" y="811" width="8" height="4" fill="#ffff00"/>
<rect x="398" y="811" width="12" height="4" fill="#00c800"/>
<rect x="410" y="811" width="8" height="12" fill="#00ffff"/>
<rect x="426" y="811" width="4" height="8" fill="#00c800"/>
<rect x="458" y="811" width="4" height="8" fill="#00ffff"/>
<rect x="462" y="811" width="4" height="6" fill="#00c800"/>
<rect x="466" y="811" width="4" height="4" fill="#ffffff"/>
<rect x="470" y="811" width="8" height="4" fill="#0000c8"/>
<rect x="598" y="811" width="4" height="4" fill="#0000c8"/>
<rect x="602" y="811" width="8" height="4" fill="#ffffff"/>
<rect x="626" y="811" width="8" height="4" fill="#0000c8"/>
<rect x="634" y="811" width="8" height="4" fill="#00c0ff"/>
<rect x="686" y="811" width="8" height="4" fill="#00c0ff"/>
<rect x="30" y="815" width="4" height="8" fill="#ffffff"/>
<rect x="326" y="815" width="20" height="4" fill="#00c0ff"/>
<rect x="346" y="815" width="12" height="4" fill="#0000c8"/>
<rect x="358" y="815" width="6" height="4" fill="#00c0ff"/>
<rect x="364" y="815" width="2" height="4" fill="#0000c8"/>
<rect x="382" y="815" width="4" height="4" fill="#ffffff"/>
<rect x="390" y="815" width="12" height="8" fill="#ffff00"/>
<rect x="402" y="815" width="8" height="8" fill="#00c800"/>
<rect x="438" y="815" width="4" height="8" fill="#ffff00"/>
<rect x="442" y="815" width="4" height="8" fill="#ff8000"/>
<rect x="446" y="815" width="4" height="8" fill="#ffff00"/>
<rect x="466" y="815" width="12" height="2" fill="#0000c8"/>
<rect x="478" y="815" width="4" height="16" fill="#ffffff"/>
<rect x="598" y="815" width="4" height="16" fill="#ffffff"/>
<rect x="602" y="815" width="8" height="4" fill="#0000c8"/>
<rect x="610" y="815" width="4" height="4" fill="#ffffff"/>
<rect x="626" y="815" width="2" height="4" fill="#0000c8"/>
<rect x="628" y="815" width="18" height="4" fill="#00c0ff"/>
<rect x="646" y="815" width="8" height="8" fill="#0000c8"/>
<rect x="686" y="815" width="2" height="24" fill="#0000c8"/>
<rect x="688" y="815" width="12" height="4" fill="#00c0ff"/>
<rect x="700" y="815" width="2" height="4" fill="#0000c8"/>
<rect x="702" y="815" width="8" height="4" fill="#ffffff"/>
<rect x="462" y="817" width="8" height="2" fill="#00c800"/>
<rect x="470" y="817" width="8" height="2" fill="#0000c8"/>
<rect x="302" y="819" width="4" height="12" fill="#ffffff"/>
<rect x="326" y="819" width="4" height="4" fill="#00c0ff"/>
<rect x="330" y="819" width="4" height="4" fill="#00ffff"/>
<rect x="334" y="819" width="12" height="4" fill="#00c0ff"/>
<rect x="346" y="819" width="20" height="4" fill="#0000c8"/>
<rect x="382" y="819" width="4" height="2" fill="#0000c8"/>
<rect x="426" y="819" width="12" height="8" fill="#00c800"/>
<rect x="454" y="819" width="12" height="4" fill="#00ffff"/>
<rect x="466" y="819" width="8" height="4" fill="#0000c8"/>
<rect x="474" y="819" width="2" height="4" fill="#00c0ff"/>
<rect x="476" y="819" width="2" height="4" fill="#0000c8"/>
<rect x="482" y="819" width="4" height="2" fill="#00c0ff"/>
<rect x="486" y="819" width="4" height="2" fill="#0000c8"/>
<rect x="602" y="819" width="4" height="4" fill="#0000c8"/>
<rect x="606" y="819" width="4" height="4" fill="#ffffff"/>
<rect x="610" y="819" width="4" height="4" fill="#0000c8"/>
<rect x="626" y="819" width="8" height="4" fill="#0000c8"/>
<rect x="634" y="819" width="12" height="4" fill="#00c0ff"/>
<rect x="688" y="819" width="10" height="4" fill="#00c0ff"/>
<rect x="698" y="819" width="8" height="12" fill="#0000c8"/>
<rect x="706" y="819" width="4" height="8" fill="#ffffff"/>
<rect x="382" y="821" width="2" height="2" fill="#0000c8"/>
<rect x="384" y="821" width="6" height="2" fill="#00c800"/>
<rect x="482" y="821" width="6" height="2" fill="#00c0ff"/>
<rect x="488" y="821" width="2" height="2" fill="#0000c8"/>
<rect x="308" y="823" width="18" height="4" fill="#00c0ff"/>
<rect x="326" y="823" width="8" height="4" fill="#00ffff"/>
<rect x="334" y="823" width="8" height="8" fill="#00c0ff"/>
<rect x="342" y="823" width="4" height="8" fill="#00ffff"/>
<rect x="346" y="823" width="8" height="4" fill="#00c0ff"/>
<rect x="354" y="823" width="16" height="2" fill="#0000c8"/>
<rect x="382" y="823" width="4" height="8" fill="#00c0ff"/>
<rect x="386" y="823" width="4" height="8" fill="#00c800"/>
<rect x="390" y="823" width="16" height="16" fill="#ffff00"/>
<rect x="406" y="823" width="4" height="8" fill="#00c800"/>
<rect x="410" y="823" width="12" height="8" fill="#00ffff"/>
<rect x="422" y="823" width="4" height="12" fill="#00c0ff"/>
<rect x="438" y="823" width="12" height="4" fill="#ffff00"/>
<rect x="450" y="823" width="8" height="8" fill="#00c800"/>
<rect x="458" y="823" width="8" height="4" fill="#00ffff"/>
<rect x="466" y="823" width="4" height="2" fill="#0000c8"/>
<rect x="470" y="823" width="8" height="2" fill="#00c0ff"/>
<rect x="482" y="823" width="2" height="8" fill="#0000c8"/>
<rect x="484" y="823" width="6" height="8" fill="#00c0ff"/>
<rect x="602" y="823" width="8" height="8" fill="#0000c8"/>
<rect x="610" y="823" width="8" height="4" fill="#ffffff"/>
<rect x="626" y="823" width="4" height="8" fill="#ffffff"/>
<rect x="630" y="823" width="2" height="4" fill="#0000c8"/>
<rect x="632" y="823" width="20" height="4" fill="#00c0ff"/>
<rect x="652" y="823" width="2" height="8" fill="#0000c8"/>
<rect x="654" y="823" width="4" height="8" fill="#ffffff"/>
<rect x="688" y="823" width="6" height="16" fill="#00ffff"/>
<rect x="694" y="823" width="4" height="8" fill="#00c0ff"/>
<rect x="354" y="825" width="12" height="2" fill="#0000c8"/>
<rect x="366" y="825" width="2" height="2" fill="#00c0ff"/>
<rect x="368" y="825" width="2" height="2" fill="#0000c8"/>
<rect x="466" y="825" width="8" height="2" fill="#0000c8"/>
<rect x="474" y="825" width="4" height="2" fill="#00c0ff"/>
<rect x="306" y="827" width="16" height="4" fill="#00c0ff"/>
<rect x="322" y="827" width="4" height="8" fill="#00ffff"/>
<rect x="326" y="827" width="4" height="4" fill="#00c0ff"/>
<rect x="330" y="827" width="4" height="4" fill="#00ffff"/>
<rect x="346" y="827" width="4" height="4" fill="#00c0ff"/>
<rect x="350" y="827" width="16" height="4" fill="#0000c8"/>
<rect x="366" y="827" width="4" height="4" fill="#00c0ff"/>
<rect x="426" y="827" width="4" height="8" fill="#00ffff"/>
<rect x="430" y="827" width="4" height="12" fill="#00c800"/>
<rect x="434" y="827" width="8" height="12" fill="#ffff00"/>
<rect x="442" y="827" width="4" height="4" fill="#ff8000"/>
<rect x="446" y="827" width="4" height="4" fill="#ffff00"/>
<rect x="458" y="827" width="4" height="4" fill="#00c0ff"/>
<rect x="462" y="827" width="6" height="2" fill="#00ffff"/>
<rect x="468" y="827" width="2" height="2" fill="#0000c8"/>
<rect x="470" y="827" width="4" height="4" fill="#ffffff"/>
<rect x="474" y="827" width="4" height="4" fill="#0000c8"/>
<rect x="610" y="827" width="12" height="4" fill="#ffffff"/>
<rect x="630" y="827" width="8" height="4" fill="#0000c8"/>
<rect x="638" y="827" width="14" height="4" fill="#00c0ff"/>
<rect x="462" y="829" width="4" height="2" fill="#00ffff"/>
<rect x="466" y="829" width="4" height="2" fill="#0000c8"/>
<rect x="302" y="831" width="8" height="4" fill="#0000c8"/>
<rect x="310" y="831" width="12" height="4" fill="#00c0ff"/>
<rect x="326" y="831" width="20" height="4" fill="#00c0ff"/>
<rect x="346" y="831" width="4" height="4" fill="#00ffff"/>
<rect x="350" y="831" width="4" height="4" fill="#00c0ff"/>
<rect x="354" y="831" width="12" height="4" fill="#0000c8"/>
<rect x="382" y="831" width="2" height="2" fill="#0000c8"/>
<rect x="384" y="831" width="6" height="2" fill="#00ffff"/>
<rect x="406" y="831" width="8" height="4" fill="#00c800"/>
<rect x="414" y="831" width="8" height="4" fill="#00ffff"/>
<rect x="442" y="831" width="8" height="4" fill="#ff8000"/>
<rect x="450" y="831" width="4" height="8" fill="#00c800"/>
<rect x="454" y="831" width="4" height="8" fill="#ffff00"/>
<rect x="458" y="831" width="8" height="6" fill="#00c0ff"/>
<rect x="466" y="831" width="8" height="4" fill="#ffffff"/>
<rect x="474" y="831" width="12" height="4" fill="#0000c8"/>
<rect x="486" y="831" width="4" height="4" fill="#00c0ff"/>
<rect x="598" y="831" width="8" height="4" fill="#ffffff"/>
<rect x="606" y="831" width="4" height="8" fill="#0000c8"/>
<rect x="610" y="831" width="16" height="4" fill="#ffffff"/>
<rect x="630" y="831" width="4" height="4" fill="#ffffff"/>
<rect x="634" y="831" width="2" height="2" fill="#0000c8"/>
<rect x="636" y="831" width="14" height="2" fill="#00c0ff"/>
<rect x="650" y="831" width="8" height="6" fill="#0000c8"/>
<rect x="658" y="831" width="4" height="4" fill="#ffffff"/>
<rect x="694" y="831" width="10" height="4" fill="#00c0ff"/>
<rect x="704" y="831" width="2" height="4" fill="#0000c8"/>
<rect x="706" y="831" width="4" height="8" fill="#ffffff"/>
<rect x="382" y="833" width="4" height="2" fill="#0000c8"/>
<rect x="386" y="833" width="4" height="2" fill="#00ffff"/>
<rect x="634" y="833" width="4" height="2" fill="#0000c8"/>
<rect x="638" y="833" width="12" height="2" fill="#00c0ff"/>
<rect x="302" y="835" width="12" height="4" fill="#0000c8"/>
<rect x="314" y="835" width="40" height="6" fill="#00c0ff"/>
<rect x="354" y="835" width="8" height="4" fill="#0000c8"/>
<rect x="362" y="835" width="4" height="4" fill="#ffffff"/>
<rect x="382" y="835" width="4" height="8" fill="#ffffff"/>
<rect x="386" y="835" width="4" height="8" fill="#00c0ff"/>
<rect x="406" y="835" width="12" height="4" fill="#00c800"/>
<rect x="418" y="835" width="4" height="4" fill="#00ffff"/>
<rect x="422" y="835" width="8" height="4" fill="#00c0ff"/>
<rect x="442" y="835" width="4" height="4" fill="#ff8000"/>
<rect x="446" y="835" width="4" height="4" fill="#ffff00"/>
<rect x="466" y="835" width="4" height="2" fill="#0000c8"/>
<rect x="470" y="835" width="8" height="4" fill="#ffffff"/>
<rect x="478" y="835" width="8" height="2" fill="#0000c8"/>
<rect x="486" y="835" width="2" height="2" fill="#00c0ff"/>
<rect x="488" y="835" width="2" height="2" fill="#0000c8"/>
<rect x="494" y="835" width="4" height="8" fill="#ffffff"/>
<rect x="602" y="835" width="4" height="4" fill="#ffffff"/>
<rect x="610" y="835" width="20" height="4" fill="#ffffff"/>
<rect x="634" y="835" width="4" height="4" fill="#ffffff"/>
<rect x="638" y="835" width="2" height="2" fill="#0000c8"/>
<rect x="640" y="835" width="2" height="2" fill="#00c0ff"/>
<rect x="642" y="835" width="4" height="2" fill="#0000c8"/>
<rect x="646" y="835" width="4" height="2" fill="#00c0ff"/>
<rect x="658" y="835" width="20" height="4" fill="#ffffff"/>
<rect x="694" y="835" width="4" height="6" fill="#00c0ff"/>
<rect x="698" y="835" width="8" height="4" fill="#0000c8"/>
<rect x="458" y="837" width="10" height="2" fill="#00c0ff"/>
<rect x="468" y="837" width="2" height="2" fill="#0000c8"/>
<rect x="478" y="837" width="12" height="2" fill="#0000c8"/>
<rect x="638" y="837" width="20" height="2" fill="#0000c8"/>
<rect x="306" y="839" width="8" height="2" fill="#0000c8"/>
<rect x="354" y="839" width="4" height="2" fill="#0000c8"/>
<rect x="390" y="839" width="4" height="4" fill="#00ffff"/>
<rect x="394" y="839" width="16" height="4" fill="#00c800"/>
<rect x="410" y="839" width="8" height="4" fill="#00ffff"/>
<rect x="418" y="839" width="12" height="2" fill="#00c0ff"/>
<rect x="430" y="839" width="4" height="4" fill="#00ffff"/>
<rect x="434" y="839" width="4" height="4" fill="#00c800"/>
<rect x="438" y="839" width="4" height="4" fill="#00ffff"/>
<rect x="442" y="839" width="8" height="4" fill="#ffff00"/>
<rect x="450" y="839" width="4" height="4" fill="#00ffff"/>
<rect x="454" y="839" width="6" height="2" fill="#00c800"/>
<rect x="460" y="839" width="2" height="2" fill="#0000c8"/>
<rect x="462" y="839" width="4" height="4" fill="#ffffff"/>
<rect x="466" y="839" width="4" height="4" fill="#0000c8"/>
<rect x="470" y="839" width="12" height="4" fill="#ffffff"/>
<rect x="482" y="839" width="4" height="4" fill="#0000c8"/>
<rect x="486" y="839" width="4" height="4" fill="#ffffff"/>
<rect x="602" y="839" width="24" height="4" fill="#ffffff"/>
<rect x="630" y="839" width="4" height="4" fill="#ffffff"/>
<rect x="642" y="839" width="4" height="4" fill="#0000c8"/>
<rect x="646" y="839" width="4" height="4" fill="#ffffff"/>
<rect x="650" y="839" width="4" height="4" fill="#0000c8"/>
<rect x="654" y="839" width="24" height="4" fill="#ffffff"/>
<rect x="686" y="839" width="4" height="2" fill="#0000c8"/>
<rect x="690" y="839" width="4" height="2" fill="#00ffff"/>
<rect x="698" y="839" width="4" height="2" fill="#0000c8"/>
<rect x="702" y="839" width="8" height="4" fill="#ffffff"/>
<rect x="306" y="841" width="52" height="2" fill="#0000c8"/>
<rect x="418" y="841" width="8" height="2" fill="#00c0ff"/>
<rect x="426" y="841" width="4" height="2" fill="#0000c8"/>
<rect x="454" y="841" width="4" height="2" fill="#00c800"/>
<rect x="458" y="841" width="4" height="2" fill="#0000c8"/>
<rect x="686" y="841" width="16" height="2" fill="#0000c8"/>
<rect x="388" y="277" width="2" height="2" fill="#ff00ff"/>
<rect x="484" y="275" width="2" height="4" fill="#ff00ff"/>
<rect x="458" y="277" width="2" height="2" fill="#ffff00"/>
<rect x="90" y="255" width="2" height="6" fill="#0080ff"/>
<rect x="90" y="261" width="2" height="2" fill="#0000ff"/>
<rect x="98" y="255" width="2" height="14" fill="#0080ff"/>
<rect x="102" y="275" width="2" height="4" fill="#ff00ff"/>
<rect x="108" y="275" width="2" height="4" fill="#ff00ff"/>
<rect x="204" y="273" width="2" height="2" fill="#0080ff"/>
<rect x="204" y="275" width="2" height="4" fill="#ff00ff"/>
<rect x="654" y="177" width="2" height="6" fill="#0080ff"/>
<rect x="654" y="177" width="2" height="2" fill="#0000ff"/>
<rect x="702" y="277" width="2" height="2" fill="#ff00ff"/>
<rect x="702" y="197" width="8" height="24" fill="#0080ff"/>
<rect x="704" y="195" width="4" height="2" fill="#0080ff"/>
<rect x="702" y="221" width="2" height="4" fill="#0080ff"/>
<rect x="706" y="221" width="4" height="8" fill="#0080ff"/>
<rect x="708" y="229" width="2" height="2" fill="#00ffff"/>
<rect x="704" y="195" width="2" height="2" fill="#0000ff"/>
<rect x="702" y="197" width="2" height="2" fill="#0000ff"/>
<rect x="708" y="201" width="2" height="2" fill="#0000ff"/>
<rect x="708" y="207" width="2" height="2" fill="#0000ff"/>
<rect x="702" y="209" width="2" height="2" fill="#0000ff"/>
<rect x="704" y="211" width="2" height="2" fill="#0000ff"/>
<rect x="704" y="215" width="2" height="2" fill="#0000ff"/>
<rect x="700" y="199" width="2" height="2" fill="#0000ff"/>
<rect x="30" y="37" width="2" height="6" fill="#00c000"/>
<rect x="36" y="37" width="6" height="6" fill="#00c000"/>
<rect x="48" y="37" width="4" height="6" fill="#00c000"/>
<rect x="54" y="37" width="2" height="6" fill="#00c000"/>
<rect x="76" y="37" width="2" height="6" fill="#00c000"/>
<rect x="94" y="37" width="2" height="6" fill="#00c000"/>
<rect x="120" y="37" width="4" height="6" fill="#00c000"/>
<rect x="130" y="37" width="2" height="6" fill="#00c000"/>
<rect x="134" y="37" width="2" height="6" fill="#00c000"/>
<rect x="146" y="37" width="2" height="6" fill="#00c000"/>
<rect x="150" y="37" width="2" height="6" fill="#00c000"/>
<rect x="166" y="37" width="2" height="6" fill="#00c000"/>
<rect x="200" y="37" width="6" height="6" fill="#00c000"/>
<rect x="208" y="37" width="2" height="6" fill="#00c000"/>
<rect x="218" y="37" width="4" height="6" fill="#00c000"/>
<rect x="238" y="39" width="2" height="4" fill="#00c000"/>
<rect x="238" y="43" width="2" height="2" fill="#0000ff"/>
<rect x="250" y="37" width="2" height="6" fill="#00c000"/>
<rect x="256" y="37" width="2" height="6" fill="#00c000"/>
<rect x="276" y="37" width="2" height="6" fill="#00c000"/>
<rect x="286" y="39" width="2" height="4" fill="#00c000"/>
<rect x="292" y="37" width="2" height="6" fill="#00c000"/>
<rect x="300" y="37" width="2" height="6" fill="#00c000"/>
<rect x="306" y="37" width="4" height="6" fill="#00c000"/>
<rect x="328" y="37" width="2" height="6" fill="#00c000"/>
<rect x="344" y="39" width="2" height="4" fill="#00c000"/>
<rect x="344" y="43" width="2" height="2" fill="#0000ff"/>
<rect x="354" y="37" width="2" height="6" fill="#00c000"/>
<rect x="360" y="37" width="4" height="6" fill="#00c000"/>
<rect x="382" y="37" width="4" height="6" fill="#00c000"/>
<rect x="388" y="37" width="2" height="6" fill="#00c000"/>
<rect x="400" y="37" width="2" height="6" fill="#00c000"/>
<rect x="414" y="37" width="4" height="6" fill="#00c000"/>
<rect x="450" y="37" width="2" height="6" fill="#00c000"/>
<rect x="466" y="37" width="4" height="6" fill="#00c000"/>
<rect x="474" y="37" width="2" height="6" fill="#00c000"/>
<rect x="490" y="37" width="2" height="6" fill="#00c000"/>
<rect x="504" y="37" width="2" height="6" fill="#00c000"/>
<rect x="534" y="37" width="2" height="6" fill="#00c000"/>
<rect x="540" y="37" width="2" height="6" fill="#00c000"/>
<rect x="550" y="37" width="6" height="6" fill="#00c000"/>
<rect x="562" y="39" width="2" height="4" fill="#00c000"/>
<rect x="582" y="37" width="4" height="6" fill="#00c000"/>
<rect x="598" y="37" width="2" height="6" fill="#00c000"/>
<rect x="608" y="37" width="4" height="6" fill="#00c000"/>
<rect x="614" y="37" width="4" height="6" fill="#00c000"/>
<rect x="630" y="39" width="2" height="4" fill="#00c000"/>
<rect x="634" y="37" width="4" height="6" fill="#00c000"/>
<rect x="654" y="37" width="2" height="6" fill="#00c000"/>
<rect x="664" y="37" width="2" height="6" fill="#00c000"/>
<rect x="668" y="37" width="2" height="6" fill="#00c000"/>
<rect x="678" y="39" width="2" height="4" fill="#00c000"/>
<rect x="678" y="43" width="2" height="2" fill="#0000ff"/>
<rect x="690" y="37" width="2" height="6" fill="#00c000"/>
<rect x="706" y="37" width="2" height="6" fill="#00c000"/>
<rect x="726" y="37" width="2" height="6" fill="#00c000"/>
<rect x="730" y="37" width="2" height="6" fill="#00c000"/>
<rect x="736" y="37" width="2" height="6" fill="#00c000"/>
<rect x="30" y="37" width="2" height="2" fill="#0000ff"/>
<rect x="38" y="37" width="2" height="2" fill="#0000ff"/>
<rect x="540" y="37" width="2" height="2" fill="#0000ff"/>
<rect x="584" y="37" width="2" height="2" fill="#ff00ff"/>
<rect x="416" y="37" width="2" height="2" fill="#80ff00"/>
<rect x="504" y="37" width="2" height="2" fill="#80ff00"/>
<rect x="308" y="43" width="2" height="2" fill="#00c000"/>
<rect x="384" y="43" width="2" height="2" fill="#00c000"/>
<rect x="608" y="43" width="2" height="2" fill="#00c000"/>
<rect x="30" y="318" width="2" height="6" fill="#00ffff"/>
<rect x="36" y="318" width="6" height="6" fill="#00ffff"/>
<rect x="48" y="318" width="4" height="6" fill="#00ffff"/>
<rect x="54" y="318" width="2" height="6" fill="#00ffff"/>
<rect x="76" y="318" width="2" height="6" fill="#00ffff"/>
<rect x="94" y="318" width="2" height="6" fill="#00ffff"/>
<rect x="120" y="318" width="4" height="6" fill="#00ffff"/>
<rect x="130" y="318" width="2" height="6" fill="#00ffff"/>
<rect x="134" y="318" width="2" height="6" fill="#00ffff"/>
<rect x="146" y="318" width="2" height="6" fill="#00ffff"/>
<rect x="150" y="318" width="2" height="6" fill="#00ffff"/>
<rect x="166" y="318" width="2" height="6" fill="#00ffff"/>
<rect x="200" y="318" width="6" height="6" fill="#00ffff"/>
<rect x="208" y="318" width="2" height="6" fill="#00ffff"/>
<rect x="218" y="318" width="4" height="6" fill="#00ffff"/>
<rect x="238" y="320" width="2" height="4" fill="#00ffff"/>
<rect x="238" y="324" width="2" height="2" fill="#00ffff"/>
<rect x="250" y="318" width="2" height="6" fill="#00ffff"/>
<rect x="256" y="318" width="2" height="6" fill="#00ffff"/>
<rect x="276" y="318" width="2" height="6" fill="#00ffff"/>
<rect x="286" y="320" width="2" height="4" fill="#00ffff"/>
<rect x="292" y="318" width="2" height="6" fill="#00ffff"/>
<rect x="300" y="318" width="2" height="6" fill="#00ffff"/>
<rect x="306" y="318" width="4" height="6" fill="#00ffff"/>
<rect x="328" y="318" width="2" height="6" fill="#00ffff"/>
<rect x="344" y="320" width="2" height="4" fill="#00ffff"/>
<rect x="344" y="324" width="2" height="2" fill="#00ffff"/>
<rect x="354" y="318" width="2" height="6" fill="#00ffff"/>
<rect x="360" y="318" width="4" height="6" fill="#00ffff"/>
<rect x="382" y="318" width="4" height="6" fill="#00ffff"/>
<rect x="388" y="318" width="2" height="6" fill="#00ffff"/>
<rect x="400" y="318" width="2" height="6" fill="#00ffff"/>
<rect x="414" y="318" width="4" height="6" fill="#00ffff"/>
<rect x="450" y="318" width="2" height="6" fill="#00ffff"/>
<rect x="466" y="318" width="4" height="6" fill="#00ffff"/>
<rect x="474" y="318" width="2" height="6" fill="#00ffff"/>
<rect x="490" y="318" width="2" height="6" fill="#00ffff"/>
<rect x="504" y="318" width="2" height="6" fill="#00ffff"/>
<rect x="534" y="318" width="2" height="6" fill="#00ffff"/>
<rect x="540" y="318" width="2" height="6" fill="#00ffff"/>
<rect x="550" y="318" width="6" height="6" fill="#00ffff"/>
<rect x="562" y="320" width="2" height="4" fill="#00ffff"/>
<rect x="582" y="318" width="4" height="6" fill="#00ffff"/>
<rect x="598" y="318" width="2" height="6" fill="#00ffff"/>
<rect x="608" y="318" width="4" height="6" fill="#00ffff"/>
<rect x="614" y="318" width="4" height="6" fill="#00ffff"/>
<rect x="630" y="320" width="2" height="4" fill="#00ffff"/>
<rect x="634" y="318" width="4" height="6" fill="#00ffff"/>
<rect x="654" y="318" width="2" height="6" fill="#00ffff"/>
<rect x="664" y="318" width="2" height="6" fill="#00ffff"/>
<rect x="668" y="318" width="2" height="6" fill="#00ffff"/>
<rect x="678" y="320" width="2" height="4" fill="#00ffff"/>
<rect x="678" y="324" width="2" height="2" fill="#00ffff"/>
<rect x="690" y="318" width="2" height="6" fill="#00ffff"/>
<rect x="706" y="318" width="2" height="6" fill="#00ffff"/>
<rect x="726" y="318" width="2" height="6" fill="#00ffff"/>
<rect x="730" y="318" width="2" height="6" fill="#00ffff"/>
<rect x="736" y="318" width="2" height="6" fill="#00ffff"/>
<rect x="30" y="599" width="2" height="6" fill="#00ffff"/>
<rect x="36" y="599" width="6" height="6" fill="#00ffff"/>
<rect x="48" y="599" width="4" height="6" fill="#00ffff"/>
<rect x="54" y="599" width="2" height="6" fill="#00ffff"/>
<rect x="76" y="599" width="2" height="6" fill="#00ffff"/>
<rect x="94" y="599" width="2" height="6" fill="#00ffff"/>
<rect x="120" y="599" width="4" height="6" fill="#00ffff"/>
<rect x="130" y="599" width="2" height="6" fill="#00ffff"/>
<rect x="134" y="599" width="2" height="6" fill="#00ffff"/>
<rect x="146" y="599" width="2" height="6" fill="#00ffff"/>
<rect x="150" y="599" width="2" height="6" fill="#00ffff"/>
<rect x="166" y="599" width="2" height="6" fill="#00ffff"/>
<rect x="200" y="599" width="6" height="6" fill="#00ffff"/>
<rect x="208" y="599" width="2" height="6" fill="#00ffff"/>
<rect x="218" y="599" width="4" height="6" fill="#00ffff"/>
<rect x="238" y="601" width="2" height="4" fill="#00ffff"/>
<rect x="238" y="605" width="2" height="2" fill="#00ffff"/>
<rect x="250" y="599" width="2" height="6" fill="#00ffff"/>
<rect x="256" y="599" width="2" height="6" fill="#00ffff"/>
<rect x="276" y="599" width="2" height="6" fill="#00ffff"/>
<rect x="286" y="601" width="2" height="4" fill="#00ffff"/>
<rect x="292" y="599" width="2" height="6" fill="#00ffff"/>
<rect x="300" y="599" width="2" height="6" fill="#00ffff"/>
<rect x="306" y="599" width="4" height="6" fill="#00ffff"/>
<rect x="328" y="599" width="2" height="6" fill="#00ffff"/>
<rect x="344" y="601" width="2" height="4" fill="#00ffff"/>
<rect x="344" y="605" width="2" height="2" fill="#00ffff"/>
<rect x="354" y="599" width="2" height="6" fill="#00ffff"/>
<rect x="360" y="599" width="4" height="6" fill="#00ffff"/>
<rect x="382" y="599" width="4" height="6" fill="#00ffff"/>
<rect x="388" y="599" width="2" height="6" fill="#00ffff"/>
<rect x="400" y="599" width="2" height="6" fill="#00ffff"/>
<rect x="414" y="599" width="4" height="6" fill="#00ffff"/>
<rect x="450" y="599" width="2" height="6" fill="#00ffff"/>
<rect x="466" y="599" width="4" height="6" fill="#00ffff"/>
<rect x="474" y="599" width="2" height="6" fill="#00ffff"/>
<rect x="490" y="599" width="2" height="6" fill="#00ffff"/>
<rect x="504" y="599" width="2" height="6" fill="#00ffff"/>
<rect x="534" y="599" width="2" height="6" fill="#00ffff"/>
<rect x="540" y="599" width="2" height="6" fill="#00ffff"/>
<rect x="550" y="599" width="6" height="6" fill="#00ffff"/>
<rect x="562" y="601" width="2" height="4" fill="#00ffff"/>
<rect x="582" y="599" width="4" height="6" fill="#00ffff"/>
<rect x="598" y="599" width="2" height="6" fill="#00ffff"/>
<rect x="608" y="599" width="4" height="6" fill="#00ffff"/>
<rect x="614" y="599" width="4" height="6" fill="#00ffff"/>
<rect x="630" y="601" width="2" height="4" fill="#00ffff"/>
<rect x="634" y="599" width="4" height="6" fill="#00ffff"/>
<rect x="654" y="599" width="2" height="6" fill="#00ffff"/>
<rect x="664" y="599" width="2" height="6" fill="#00ffff"/>
<rect x="668" y="599" width="2" height="6" fill="#00ffff"/>
<rect x="678" y="601" width="2" height="4" fill="#00ffff"/>
<rect x="678" y="605" width="2" height="2" fill="#00ffff"/>
<rect x="690" y="599" width="2" height="6" fill="#00ffff"/>
<rect x="706" y="599" width="2" height="6" fill="#00ffff"/>
<rect x="726" y="599" width="2" height="6" fill="#00ffff"/>
<rect x="730" y="599" width="2" height="6" fill="#00ffff"/>
<rect x="736" y="599" width="2" height="6" fill="#00ffff"/>
<rect x="90" y="536" width="2" height="8" fill="#80ffff"/>
<rect x="98" y="536" width="2" height="12" fill="#80ffff"/>
<rect x="98" y="556" width="2" height="2" fill="#80ffff"/>
<rect x="102" y="556" width="2" height="2" fill="#80ffff"/>
<rect x="108" y="556" width="2" height="4" fill="#80ffff"/>
<rect x="702" y="478" width="8" height="24" fill="#80ffff"/>
<rect x="704" y="476" width="4" height="2" fill="#80ffff"/>
<rect x="704" y="480" width="4" height="10" fill="#00ffff"/>
<rect x="702" y="502" width="2" height="4" fill="#80ffff"/>
<rect x="706" y="502" width="4" height="8" fill="#80ffff"/>
<rect x="654" y="458" width="2" height="6" fill="#80ffff"/>
<rect x="90" y="817" width="2" height="8" fill="#ffffff"/>
<rect x="98" y="817" width="2" height="14" fill="#ffffff"/>
<rect x="94" y="825" width="2" height="6" fill="#ffffff"/>
<rect x="98" y="837" width="14" height="4" fill="#ffffff"/>
<rect x="100" y="833" width="4" height="4" fill="#ffffff"/>
<rect x="654" y="739" width="2" height="6" fill="#0000c8"/>
<rect x="702" y="759" width="8" height="24" fill="#0000c8"/>
<rect x="704" y="757" width="4" height="2" fill="#0000c8"/>
<rect x="702" y="783" width="2" height="4" fill="#0000c8"/>
<rect x="706" y="783" width="4" height="8" fill="#0000c8"/>
<rect x="704" y="761" width="4" height="18" fill="#00c0ff"/>
<rect x="704" y="765" width="2" height="6" fill="#00ffff"/>
<rect x="204" y="554" width="2" height="6" fill="#80ffff"/>
<rect x="204" y="835" width="2" height="2" fill="#ffffff"/>
<rect x="204" y="837" width="2" height="4" fill="#0000c8"/>
<rect x="30" y="601" width="2" height="1" fill="#00c800"/>
<rect x="36" y="601" width="6" height="1" fill="#00c800"/>
<rect x="36" y="603" width="2" height="2" fill="#00c800"/>
<rect x="48" y="601" width="4" height="1" fill="#00c800"/>
<rect x="48" y="603" width="2" height="2" fill="#00c800"/>
<rect x="54" y="601" width="2" height="1" fill="#00c800"/>
<rect x="76" y="601" width="2" height="1" fill="#00c800"/>
<rect x="94" y="601" width="2" height="1" fill="#00c800"/>
<rect x="120" y="601" width="4" height="1" fill="#00c800"/>
<rect x="120" y="603" width="2" height="2" fill="#00c800"/>
<rect x="130" y="601" width="2" height="1" fill="#00c800"/>
<rect x="134" y="601" width="2" height="1" fill="#00c800"/>
<rect x="146" y="601" width="2" height="1" fill="#00c800"/>
<rect x="150" y="601" width="2" height="1" fill="#00c800"/>
<rect x="166" y="601" width="2" height="1" fill="#00c800"/>
<rect x="200" y="601" width="6" height="1" fill="#00c800"/>
<rect x="200" y="603" width="2" height="2" fill="#00c800"/>
<rect x="208" y="601" width="2" height="1" fill="#00c800"/>
<rect x="218" y="601" width="4" height="1" fill="#00c800"/>
<rect x="218" y="603" width="2" height="2" fill="#00c800"/>
<rect x="238" y="601" width="2" height="1" fill="#00c800"/>
<rect x="250" y="601" width="2" height="1" fill="#00c800"/>
<rect x="256" y="601" width="2" height="1" fill="#00c800"/>
<rect x="276" y="601" width="2" height="1" fill="#00c800"/>
<rect x="286" y="601" width="2" height="1" fill="#00c800"/>
<rect x="292" y="601" width="2" height="1" fill="#00c800"/>
<rect x="300" y="601" width="2" height="1" fill="#00c800"/>
<rect x="306" y="601" width="4" height="1" fill="#00c800"/>
<rect x="306" y="603" width="2" height="2" fill="#00c800"/>
<rect x="328" y="601" width="2" height="1" fill="#00c800"/>
<rect x="344" y="601" width="2" height="1" fill="#00c800"/>
<rect x="354" y="601" width="2" height="1" fill="#00c800"/>
<rect x="360" y="601" width="4" height="1" fill="#00c800"/>
<rect x="360" y="603" width="2" height="2" fill="#00c800"/>
<rect x="382" y="601" width="4" height="1" fill="#00c800"/>
<rect x="382" y="603" width="2" height="2" fill="#00c800"/>
<rect x="388" y="601" width="2" height="1" fill="#00c800"/>
<rect x="400" y="601" width="2" height="1" fill="#00c800"/>
<rect x="414" y="601" width="4" height="1" fill="#00c800"/>
<rect x="414" y="603" width="2" height="2" fill="#00c800"/>
<rect x="450" y="601" width="2" height="1" fill="#00c800"/>
<rect x="466" y="601" width="4" height="1" fill="#00c800"/>
<rect x="466" y="603" width="2" height="2" fill="#00c800"/>
<rect x="474" y="601" width="2" height="1" fill="#00c800"/>
<rect x="490" y="601" width="2" height="1" fill="#00c800"/>
<rect x="504" y="601" width="2" height="1" fill="#00c800"/>
<rect x="534" y="601" width="2" height="1" fill="#00c800"/>
<rect x="540" y="601" width="2" height="1" fill="#00c800"/>
<rect x="550" y="601" width="6" height="1" fill="#00c800"/>
<rect x="550" y="603" width="2" height="2" fill="#00c800"/>
<rect x="562" y="601" width="2" height="1" fill="#00c800"/>
<rect x="582" y="601" width="4" height="1" fill="#00c800"/>
<rect x="582" y="603" width="2" height="2" fill="#00c800"/>
<rect x="598" y="601" width="2" height="1" fill="#00c800"/>
<rect x="608" y="601" width="4" height="1" fill="#00c800"/>
<rect x="608" y="603" width="2" height="2" fill="#00c800"/>
<rect x="614" y="601" width="4" height="1" fill="#00c800"/>
<rect x="614" y="603" width="2" height="2" fill="#00c800"/>
<rect x="630" y="601" width="2" height="1" fill="#00c800"/>
<rect x="634" y="601" width="4" height="1" fill="#00c800"/>
<rect x="634" y="603" width="2" height="2" fill="#00c800"/>
<rect x="654" y="601" width="2" height="1" fill="#00c800"/>
<rect x="664" y="601" width="2" height="1" fill="#00c800"/>
<rect x="668" y="601" width="2" height="1" fill="#00c800"/>
<rect x="678" y="601" width="2" height="1" fill="#00c800"/>
<rect x="690" y="601" width="2" height="1" fill="#00c800"/>
<rect x="706" y="601" width="2" height="1" fill="#00c800"/>
<rect x="726" y="601" width="2" height="1" fill="#00c800"/>
<rect x="730" y="601" width="2" height="1" fill="#00c800"/>
<rect x="736" y="601" width="2" height="1" fill="#00c800"/>
<rect x="494" y="837" width="4" height="4" fill="#ffffff"/>
<rect x="522" y="837" width="2" height="4" fill="#ffffff"/>
<rect x="528" y="837" width="2" height="4" fill="#ffffff"/>
<rect x="128" y="837" width="2" height="4" fill="#ffffff"/>
<rect x="110" y="837" width="2" height="4" fill="#ffffff"/>
<rect x="242" y="839" width="2" height="2" fill="#ffffff"/>
<rect x="248" y="837" width="2" height="4" fill="#ffffff"/>
<rect x="284" y="837" width="2" height="4" fill="#ffffff"/>
<rect x="658" y="477" width="2" height="4" fill="#0000ff"/>
<rect x="664" y="479" width="2" height="8" fill="#0000ff"/>
<rect x="666" y="483" width="2" height="4" fill="#0080ff"/>
<rect x="668" y="481" width="2" height="2" fill="#0080ff"/>
</g>
<g shape-rendering="crispEdges">
<rect x="31" y="279" width="718" height="1" fill="#fff"/>
<rect x="31" y="560" width="718" height="1" fill="#fff"/>
<rect x="31" y="841" width="718" height="1" fill="#eeeeee"/>
</g>
<g shape-rendering="crispEdges" stroke="#000" stroke-width="1" fill="none">
<rect x="30.5" y="25.5" width="719" height="255"/>
<line x1="30" y1="40.5" x2="750" y2="40.5"/>
<line x1="30" y1="100.5" x2="750" y2="100.5"/>
<line x1="30" y1="160.5" x2="750" y2="160.5"/>
<line x1="30" y1="220.5" x2="750" y2="220.5"/>
<line x1="210.5" y1="25" x2="210.5" y2="281"/>
<line x1="390.5" y1="25" x2="390.5" y2="281"/>
<line x1="570.5" y1="25" x2="570.5" y2="281"/>
<rect x="30.5" y="306.5" width="719" height="255"/>
<line x1="30" y1="321.5" x2="750" y2="321.5"/>
<line x1="30" y1="381.5" x2="750" y2="381.5"/>
<line x1="30" y1="441.5" x2="750" y2="441.5"/>
<line x1="30" y1="501.5" x2="750" y2="501.5"/>
<line x1="210.5" y1="306" x2="210.5" y2="562"/>
<line x1="390.5" y1="306" x2="390.5" y2="562"/>
<line x1="570.5" y1="306" x2="570.5" y2="562"/>
<rect x="30.5" y="587.5" width="719" height="255"/>
<line x1="30" y1="602.5" x2="750" y2="602.5"/>
<line x1="30" y1="662.5" x2="750" y2="662.5"/>
<line x1="30" y1="722.5" x2="750" y2="722.5"/>
<line x1="30" y1="782.5" x2="750" y2="782.5"/>
<line x1="210.5" y1="587" x2="210.5" y2="843"/>
<line x1="390.5" y1="587" x2="390.5" y2="843"/>
<line x1="570.5" y1="587" x2="570.5" y2="843"/>
</g>
<g class="txt">
<text x="240.8" y="21" font-size="26.5" textLength="128" lengthAdjust="spacingAndGlyphs" >2025–10–25</text>
<text x="387.2" y="21" font-size="26.5" textLength="123" lengthAdjust="spacingAndGlyphs" >06:00–07:00</text>
<text x="517.4" y="21" font-size="26.5" textLength="45.5" lengthAdjust="spacingAndGlyphs" >UTC</text>
<text x="753.6" y="47.0" font-size="13.8" textLength="25.5" lengthAdjust="spacingAndGlyphs" >3 km</text>
<text x="753.6" y="126.2" font-size="13.8" textLength="25.5" lengthAdjust="spacingAndGlyphs" >2 km</text>
<text x="753.6" y="205.4" font-size="13.8" textLength="25.5" lengthAdjust="spacingAndGlyphs" >1 km</text>
<text x="753.6" y="284.6" font-size="13.8" textLength="25.5" lengthAdjust="spacingAndGlyphs" >0 km</text>
<text x="16.4" y="294" font-size="13.8" textLength="27.5" lengthAdjust="spacingAndGlyphs" >06:00</text>
<text x="196.4" y="294" font-size="13.8" textLength="27.5" lengthAdjust="spacingAndGlyphs" >06:15</text>
<text x="376.4" y="294" font-size="13.8" textLength="27.5" lengthAdjust="spacingAndGlyphs" >06:30</text>
<text x="556.4" y="294" font-size="13.8" textLength="27.5" lengthAdjust="spacingAndGlyphs" >06:45</text>
<text x="736.4" y="294" font-size="13.8" textLength="27.5" lengthAdjust="spacingAndGlyphs" >07:00</text>
<text x="753.6" y="328.0" font-size="13.8" textLength="25.5" lengthAdjust="spacingAndGlyphs" >3 km</text>
<text x="753.6" y="407.2" font-size="13.8" textLength="25.5" lengthAdjust="spacingAndGlyphs" >2 km</text>
<text x="753.6" y="486.4" font-size="13.8" textLength="25.5" lengthAdjust="spacingAndGlyphs" >1 km</text>
<text x="753.6" y="565.6" font-size="13.8" textLength="25.5" lengthAdjust="spacingAndGlyphs" >0 km</text>
<text x="16.4" y="575" font-size="13.8" textLength="27.5" lengthAdjust="spacingAndGlyphs" >06:00</text>
<text x="196.4" y="575" font-size="13.8" textLength="27.5" lengthAdjust="spacingAndGlyphs" >06:15</text>
<text x="376.4" y="575" font-size="13.8" textLength="27.5" lengthAdjust="spacingAndGlyphs" >06:30</text>
<text x="556.4" y="575" font-size="13.8" textLength="27.5" lengthAdjust="spacingAndGlyphs" >06:45</text>
<text x="736.4" y="575" font-size="13.8" textLength="27.5" lengthAdjust="spacingAndGlyphs" >07:00</text>
<text x="753.6" y="609.0" font-size="13.8" textLength="25.5" lengthAdjust="spacingAndGlyphs" >3 km</text>
<text x="753.6" y="688.2" font-size="13.8" textLength="25.5" lengthAdjust="spacingAndGlyphs" >2 km</text>
<text x="753.6" y="767.4" font-size="13.8" textLength="25.5" lengthAdjust="spacingAndGlyphs" >1 km</text>
<text x="753.6" y="846.6" font-size="13.8" textLength="25.5" lengthAdjust="spacingAndGlyphs" >0 km</text>
<text x="16.4" y="856" font-size="13.8" textLength="27.5" lengthAdjust="spacingAndGlyphs" >06:00</text>
<text x="196.4" y="856" font-size="13.8" textLength="27.5" lengthAdjust="spacingAndGlyphs" >06:15</text>
<text x="376.4" y="856" font-size="13.8" textLength="27.5" lengthAdjust="spacingAndGlyphs" >06:30</text>
<text x="556.4" y="856" font-size="13.8" textLength="27.5" lengthAdjust="spacingAndGlyphs" >06:45</text>
<text x="736.4" y="856" font-size="13.8" textLength="27.5" lengthAdjust="spacingAndGlyphs" >07:00</text>
<text transform="translate(19,226) rotate(-90)" font-size="27" textLength="131" lengthAdjust="spacingAndGlyphs">Fall Velocity</text>
<line x1="2" y1="94.5" x2="25" y2="94.5" stroke="#000" shape-rendering="crispEdges"/>
<text transform="translate(19,513) rotate(-90)" font-size="27" textLength="142" lengthAdjust="spacingAndGlyphs">Rain Intensity</text>
<line x1="2" y1="370.5" x2="25" y2="370.5" stroke="#000" shape-rendering="crispEdges"/>
<text transform="translate(19,780) rotate(-90)" font-size="27" textLength="114" lengthAdjust="spacingAndGlyphs">Reflectivity</text>
<line x1="2" y1="665.5" x2="25" y2="665.5" stroke="#000" shape-rendering="crispEdges"/>
<rect x="784" y="78" width="31" height="13" fill="#ff00ff" shape-rendering="crispEdges"/>
<rect x="784" y="91" width="31" height="14" fill="#ff0000" shape-rendering="crispEdges"/>
<rect x="784" y="105" width="31" height="13" fill="#ff8000" shape-rendering="crispEdges"/>
<rect x="784" y="118" width="31" height="14" fill="#ffff00" shape-rendering="crispEdges"/>
<rect x="784" y="132" width="31" height="13" fill="#80ff00" shape-rendering="crispEdges"/>
<rect x="784" y="145" width="31" height="14" fill="#00c000" shape-rendering="crispEdges"/>
<rect x="784" y="159" width="31" height="14" fill="#00ffff" shape-rendering="crispEdges"/>
<rect x="784" y="173" width="31" height="14" fill="#0080ff" shape-rendering="crispEdges"/>
<rect x="784" y="187" width="31" height="13" fill="#0000ff" shape-rendering="crispEdges"/>
<text x="800.6" y="76" font-size="13.8" textLength="18" lengthAdjust="spacingAndGlyphs" >m/s</text>
<text x="817.6" y="94" font-size="13.8" textLength="14" lengthAdjust="spacingAndGlyphs" >8.0</text>
<text x="817.6" y="108" font-size="13.8" textLength="14" lengthAdjust="spacingAndGlyphs" >7.0</text>
<text x="817.6" y="122" font-size="13.8" textLength="14" lengthAdjust="spacingAndGlyphs" >6.0</text>
<text x="817.6" y="136" font-size="13.8" textLength="14" lengthAdjust="spacingAndGlyphs" >5.0</text>
<text x="817.6" y="150" font-size="13.8" textLength="14" lengthAdjust="spacingAndGlyphs" >4.0</text>
<text x="817.6" y="164" font-size="13.8" textLength="14" lengthAdjust="spacingAndGlyphs" >3.0</text>
<text x="817.6" y="178" font-size="13.8" textLength="14" lengthAdjust="spacingAndGlyphs" >2.0</text>
<text x="817.6" y="192" font-size="13.8" textLength="14" lengthAdjust="spacingAndGlyphs" >1.0</text>
<text x="817.6" y="206" font-size="13.8" textLength="14" lengthAdjust="spacingAndGlyphs" >0.0</text>
<rect x="784" y="214" width="31" height="14" fill="#dddddd" shape-rendering="crispEdges"/>
<text x="817.6" y="220" font-size="13.8" textLength="24.5" lengthAdjust="spacingAndGlyphs" >miss</text>
<rect x="784" y="359" width="31" height="9" fill="#000000" shape-rendering="crispEdges"/>
<rect x="784" y="368" width="31" height="9" fill="#500050" shape-rendering="crispEdges"/>
<rect x="784" y="377" width="31" height="10" fill="#b000b0" shape-rendering="crispEdges"/>
<rect x="784" y="387" width="31" height="9" fill="#ff00ff" shape-rendering="crispEdges"/>
<rect x="784" y="396" width="31" height="9" fill="#ff0080" shape-rendering="crispEdges"/>
<rect x="784" y="405" width="31" height="10" fill="#ff0000" shape-rendering="crispEdges"/>
<rect x="784" y="415" width="31" height="9" fill="#ff8000" shape-rendering="crispEdges"/>
<rect x="784" y="424" width="31" height="10" fill="#ffff00" shape-rendering="crispEdges"/>
<rect x="784" y="434" width="31" height="9" fill="#80ff40" shape-rendering="crispEdges"/>
<rect x="784" y="443" width="31" height="9" fill="#00c800" shape-rendering="crispEdges"/>
<rect x="784" y="452" width="31" height="10" fill="#0000ff" shape-rendering="crispEdges"/>
<rect x="784" y="462" width="31" height="9" fill="#0080ff" shape-rendering="crispEdges"/>
<rect x="784" y="471" width="31" height="9" fill="#00ffff" shape-rendering="crispEdges"/>
<rect x="784" y="480" width="31" height="10" fill="#80ffff" shape-rendering="crispEdges"/>
<text x="800.6" y="356" font-size="13.8" textLength="31" lengthAdjust="spacingAndGlyphs" >mm/hr</text>
<text x="817.6" y="370" font-size="13.8" textLength="21.5" lengthAdjust="spacingAndGlyphs" >48.0</text>
<text x="817.6" y="389" font-size="13.8" textLength="21.5" lengthAdjust="spacingAndGlyphs" >12.0</text>
<text x="817.6" y="409" font-size="13.8" textLength="14" lengthAdjust="spacingAndGlyphs" >6.0</text>
<text x="817.6" y="429" font-size="13.8" textLength="14" lengthAdjust="spacingAndGlyphs" >3.0</text>
<text x="817.6" y="448" font-size="13.8" textLength="14" lengthAdjust="spacingAndGlyphs" >1.5</text>
<text x="817.6" y="468" font-size="13.8" textLength="14" lengthAdjust="spacingAndGlyphs" >0.5</text>
<text x="817.6" y="485" font-size="13.8" textLength="14" lengthAdjust="spacingAndGlyphs" >0.1</text>
<text x="817.6" y="496" font-size="13.8" textLength="14" lengthAdjust="spacingAndGlyphs" >0.0</text>
<rect x="784" y="499" width="31" height="10" fill="#dddddd" shape-rendering="crispEdges"/>
<text x="817.6" y="504" font-size="13.8" textLength="24.5" lengthAdjust="spacingAndGlyphs" >miss</text>
<rect x="784" y="640" width="31" height="12" fill="#a040a0" shape-rendering="crispEdges"/>
<rect x="784" y="652" width="31" height="13" fill="#e000e0" shape-rendering="crispEdges"/>
<rect x="784" y="665" width="31" height="12" fill="#a000a0" shape-rendering="crispEdges"/>
<rect x="784" y="677" width="31" height="13" fill="#ff0000" shape-rendering="crispEdges"/>
<rect x="784" y="690" width="31" height="12" fill="#ff8000" shape-rendering="crispEdges"/>
<rect x="784" y="702" width="31" height="13" fill="#ffff00" shape-rendering="crispEdges"/>
<rect x="784" y="715" width="31" height="12" fill="#00c800" shape-rendering="crispEdges"/>
<rect x="784" y="727" width="31" height="13" fill="#00ffff" shape-rendering="crispEdges"/>
<rect x="784" y="740" width="31" height="12" fill="#00c0ff" shape-rendering="crispEdges"/>
<rect x="784" y="752" width="31" height="13" fill="#0000c8" shape-rendering="crispEdges"/>
<text x="800.6" y="637" font-size="13.8" textLength="21" lengthAdjust="spacingAndGlyphs" >dBZ</text>
<text x="818.6" y="657.4" font-size="13.8" textLength="21.5" lengthAdjust="spacingAndGlyphs" >40.0</text>
<text x="818.6" y="670.0" font-size="13.8" textLength="21.5" lengthAdjust="spacingAndGlyphs" >35.0</text>
<text x="818.6" y="682.6" font-size="13.8" textLength="21.5" lengthAdjust="spacingAndGlyphs" >30.0</text>
<text x="818.6" y="695.1" font-size="13.8" textLength="21.5" lengthAdjust="spacingAndGlyphs" >25.0</text>
<text x="818.6" y="707.7" font-size="13.8" textLength="21.5" lengthAdjust="spacingAndGlyphs" >20.0</text>
<text x="818.6" y="720.3" font-size="13.8" textLength="21.5" lengthAdjust="spacingAndGlyphs" >15.0</text>
<text x="818.6" y="732.9" font-size="13.8" textLength="21.5" lengthAdjust="spacingAndGlyphs" >10.0</text>
<text x="818.6" y="745.5" font-size="13.8" textLength="14" lengthAdjust="spacingAndGlyphs" >5.0</text>
<text x="818.6" y="758.0" font-size="13.8" textLength="14" lengthAdjust="spacingAndGlyphs" >0.0</text>
<text x="818.6" y="770.6" font-size="13.8" textLength="21" lengthAdjust="spacingAndGlyphs" >−5.0</text>
<rect x="784" y="777" width="31" height="13" fill="#dddddd" shape-rendering="crispEdges"/>
<text x="818.6" y="779" font-size="13.8" textLength="25" lengthAdjust="spacingAndGlyphs" >none</text>
</g>
</svg></body></html>
